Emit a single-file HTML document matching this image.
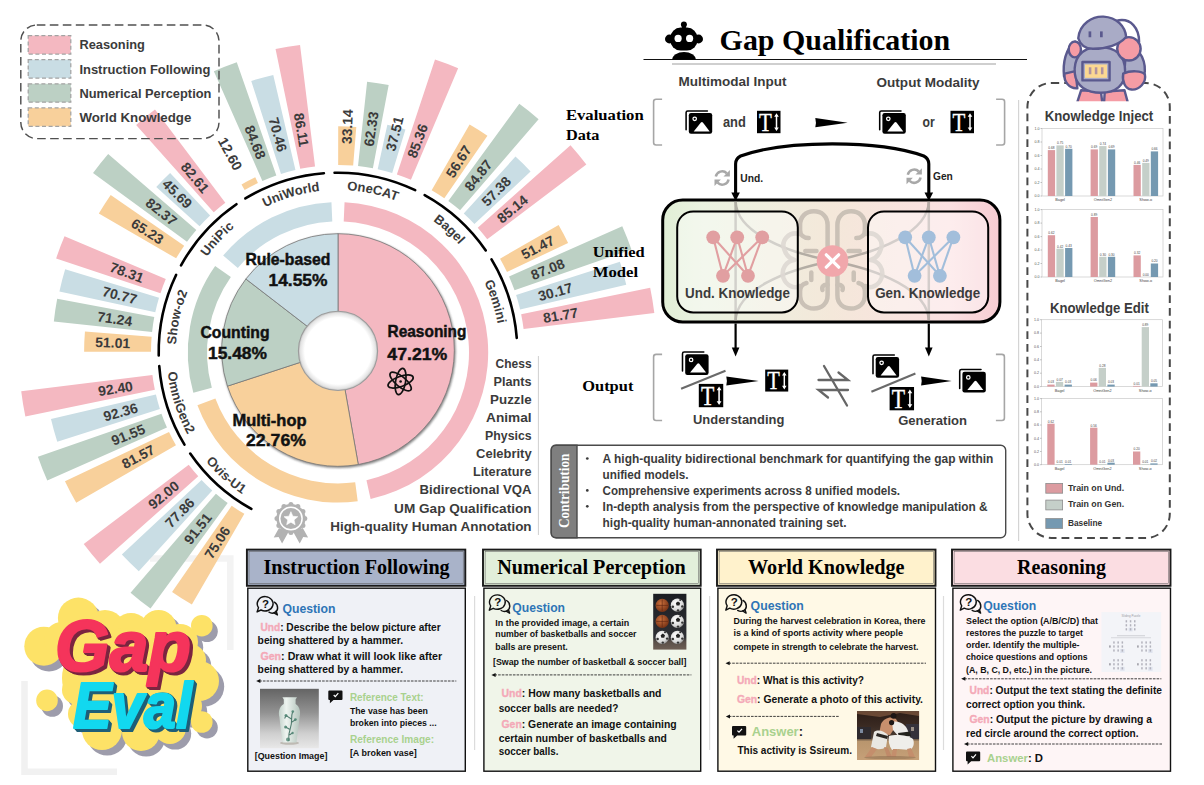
<!DOCTYPE html>
<html><head><meta charset="utf-8"><title>GapEval</title>
<style>html,body{margin:0;padding:0;background:#fff;}svg{display:block}text{white-space:pre}</style></head>
<body><svg width="1204" height="785" viewBox="0 0 1204 785">
<rect width="1204" height="785" fill="#fff"/>
<path d="M24.5,681 V771.8 H117" fill="none" stroke="#f1f1f1" stroke-width="6.5"/>
<path d="M150,558.4 H230.3 V650" fill="none" stroke="#f3f3f3" stroke-width="6.5"/>
<g id="bars">
<path d="M338.16,165.00 L338.20,126.31 A225.69,225.69 0 0 1 356.30,127.05 L353.16,165.62 A187.00,187.00 0 0 0 338.16,165.00 Z" fill="#f8d09b" />
<path d="M358.03,166.08 L367.11,81.81 A271.76,271.76 0 0 1 388.69,85.01 L372.88,168.28 A187.00,187.00 0 0 0 358.03,166.08 Z" fill="#bcd0c4" />
<path d="M377.68,169.26 L387.35,124.71 A232.59,232.59 0 0 1 405.42,129.40 L392.21,173.03 A187.00,187.00 0 0 0 377.68,169.26 Z" fill="#c9dde4" />
<path d="M396.87,174.51 L435.00,59.57 A308.10,308.10 0 0 1 458.14,68.29 L410.92,179.80 A187.00,187.00 0 0 0 396.87,174.51 Z" fill="#f4b8c1" />
<path d="M431.64,190.13 L469.61,124.50 A262.83,262.83 0 0 1 487.43,135.79 L444.32,198.17 A187.00,187.00 0 0 0 431.64,190.13 Z" fill="#f8d09b" />
<path d="M448.31,201.00 L519.29,103.84 A307.32,307.32 0 0 1 538.61,119.18 L460.07,210.34 A187.00,187.00 0 0 0 448.31,201.00 Z" fill="#bcd0c4" />
<path d="M463.73,213.58 L515.47,156.62 A263.95,263.95 0 0 1 530.57,171.48 L474.43,224.11 A187.00,187.00 0 0 0 463.73,213.58 Z" fill="#c9dde4" />
<path d="M477.73,227.72 L570.50,145.21 A311.16,311.16 0 0 1 586.34,164.52 L487.25,239.33 A187.00,187.00 0 0 0 477.73,227.72 Z" fill="#f4b8c1" />
<path d="M500.03,258.64 L558.62,224.88 A254.62,254.62 0 0 1 568.10,242.99 L506.99,271.94 A187.00,187.00 0 0 0 500.03,258.64 Z" fill="#f8d09b" />
<path d="M509.03,276.39 L622.27,226.33 A310.81,310.81 0 0 1 631.43,249.53 L514.54,290.35 A187.00,187.00 0 0 0 509.03,276.39 Z" fill="#bcd0c4" />
<path d="M516.10,294.99 L619.92,261.76 A296.01,296.01 0 0 1 626.25,284.66 L520.10,309.46 A187.00,187.00 0 0 0 516.10,294.99 Z" fill="#c9dde4" />
<path d="M521.15,314.24 L650.17,287.64 A318.73,318.73 0 0 1 654.32,312.88 L523.59,329.05 A187.00,187.00 0 0 0 521.15,314.24 Z" fill="#f4b8c1" />
<path d="M244.64,189.97 L241.50,184.53 A193.28,193.28 0 0 1 255.25,177.33 L257.94,183.01 A187.00,187.00 0 0 0 244.64,189.97 Z" fill="#f8d09b" />
<path d="M262.39,180.97 L213.86,71.19 A307.03,307.03 0 0 1 236.78,62.14 L276.35,175.46 A187.00,187.00 0 0 0 262.39,180.97 Z" fill="#bcd0c4" />
<path d="M280.99,173.90 L251.24,80.96 A284.59,284.59 0 0 1 273.26,74.88 L295.46,169.90 A187.00,187.00 0 0 0 280.99,173.90 Z" fill="#c9dde4" />
<path d="M300.24,168.85 L275.55,49.09 A309.28,309.28 0 0 1 300.04,45.06 L315.05,166.41 A187.00,187.00 0 0 0 300.24,168.85 Z" fill="#f4b8c1" />
<path d="M176.13,258.36 L98.81,213.62 A276.33,276.33 0 0 1 110.68,194.89 L184.17,245.68 A187.00,187.00 0 0 0 176.13,258.36 Z" fill="#f8d09b" />
<path d="M187.00,241.69 L93.03,173.04 A303.38,303.38 0 0 1 108.17,153.97 L196.34,229.93 A187.00,187.00 0 0 0 187.00,241.69 Z" fill="#bcd0c4" />
<path d="M199.58,226.27 L156.28,186.93 A245.50,245.50 0 0 1 170.10,172.89 L210.11,215.57 A187.00,187.00 0 0 0 199.58,226.27 Z" fill="#c9dde4" />
<path d="M213.72,212.27 L136.13,125.03 A303.76,303.76 0 0 1 154.98,109.57 L225.33,202.75 A187.00,187.00 0 0 0 213.72,212.27 Z" fill="#f4b8c1" />
<path d="M151.00,351.84 L84.11,351.78 A253.89,253.89 0 0 1 84.94,331.42 L151.62,336.84 A187.00,187.00 0 0 0 151.00,351.84 Z" fill="#f8d09b" />
<path d="M152.08,331.97 L53.83,321.38 A285.82,285.82 0 0 1 57.20,298.69 L154.28,317.12 A187.00,187.00 0 0 0 152.08,331.97 Z" fill="#bcd0c4" />
<path d="M155.26,312.32 L59.42,291.51 A285.08,285.08 0 0 1 65.16,269.37 L159.03,297.79 A187.00,187.00 0 0 0 155.26,312.32 Z" fill="#c9dde4" />
<path d="M160.51,293.13 L56.13,258.51 A296.97,296.97 0 0 1 64.53,236.20 L165.80,279.08 A187.00,187.00 0 0 0 160.51,293.13 Z" fill="#f4b8c1" />
<path d="M175.97,445.36 L76.23,502.83 A302.12,302.12 0 0 1 64.97,481.35 L169.01,432.06 A187.00,187.00 0 0 0 175.97,445.36 Z" fill="#f8d09b" />
<path d="M166.97,427.61 L47.28,480.53 A317.87,317.87 0 0 1 37.91,456.80 L161.46,413.65 A187.00,187.00 0 0 0 166.97,427.61 Z" fill="#bcd0c4" />
<path d="M159.90,409.01 L57.28,441.86 A294.75,294.75 0 0 1 50.98,419.06 L155.90,394.54 A187.00,187.00 0 0 0 159.90,409.01 Z" fill="#c9dde4" />
<path d="M154.85,389.76 L25.37,416.46 A319.21,319.21 0 0 1 21.21,391.18 L152.41,374.95 A187.00,187.00 0 0 0 154.85,389.76 Z" fill="#f4b8c1" />
<path d="M244.36,513.87 L191.86,604.62 A291.84,291.84 0 0 1 172.07,592.08 L231.68,505.83 A187.00,187.00 0 0 0 244.36,513.87 Z" fill="#f8d09b" />
<path d="M227.69,503.00 L150.53,608.62 A317.80,317.80 0 0 1 130.55,592.76 L215.93,493.66 A187.00,187.00 0 0 0 227.69,503.00 Z" fill="#bcd0c4" />
<path d="M212.27,490.42 L138.80,571.30 A296.26,296.26 0 0 1 121.86,554.62 L201.57,479.89 A187.00,187.00 0 0 0 212.27,490.42 Z" fill="#c9dde4" />
<path d="M198.27,476.28 L99.95,563.72 A318.58,318.58 0 0 1 83.74,543.95 L188.75,464.67 A187.00,187.00 0 0 0 198.27,476.28 Z" fill="#f4b8c1" />
</g>
<g id="barlabels">
<text transform="translate(346.53,144.17) rotate(-87.65)" x="0" y="4.9" text-anchor="start" font-family="Liberation Sans, sans-serif" font-size="14" font-weight="bold" fill="#3b3b3b">33.14</text>
<text transform="translate(368.56,146.26) rotate(-81.55)" x="0" y="4.9" text-anchor="start" font-family="Liberation Sans, sans-serif" font-size="14" font-weight="bold" fill="#3b3b3b">62.33</text>
<text transform="translate(390.25,150.67) rotate(-75.45)" x="0" y="4.9" text-anchor="start" font-family="Liberation Sans, sans-serif" font-size="14" font-weight="bold" fill="#3b3b3b">37.51</text>
<text transform="translate(411.35,157.36) rotate(-69.35)" x="0" y="4.9" text-anchor="start" font-family="Liberation Sans, sans-serif" font-size="14" font-weight="bold" fill="#3b3b3b">85.36</text>
<text transform="translate(449.30,176.28) rotate(-57.65)" x="0" y="4.9" text-anchor="start" font-family="Liberation Sans, sans-serif" font-size="14" font-weight="bold" fill="#3b3b3b">56.67</text>
<text transform="translate(467.34,189.10) rotate(-51.55)" x="0" y="4.9" text-anchor="start" font-family="Liberation Sans, sans-serif" font-size="14" font-weight="bold" fill="#3b3b3b">84.87</text>
<text transform="translate(483.92,203.77) rotate(-45.45)" x="0" y="4.9" text-anchor="start" font-family="Liberation Sans, sans-serif" font-size="14" font-weight="bold" fill="#3b3b3b">57.38</text>
<text transform="translate(498.84,220.12) rotate(-39.35)" x="0" y="4.9" text-anchor="start" font-family="Liberation Sans, sans-serif" font-size="14" font-weight="bold" fill="#3b3b3b">85.14</text>
<text transform="translate(522.25,255.47) rotate(-27.65)" x="0" y="4.9" text-anchor="start" font-family="Liberation Sans, sans-serif" font-size="14" font-weight="bold" fill="#3b3b3b">51.47</text>
<text transform="translate(531.46,275.60) rotate(-21.55)" x="0" y="4.9" text-anchor="start" font-family="Liberation Sans, sans-serif" font-size="14" font-weight="bold" fill="#3b3b3b">87.08</text>
<text transform="translate(538.48,296.59) rotate(-15.45)" x="0" y="4.9" text-anchor="start" font-family="Liberation Sans, sans-serif" font-size="14" font-weight="bold" fill="#3b3b3b">30.17</text>
<text transform="translate(543.24,318.21) rotate(-9.35)" x="0" y="4.9" text-anchor="start" font-family="Liberation Sans, sans-serif" font-size="14" font-weight="bold" fill="#3b3b3b">81.77</text>
<text transform="translate(238.59,169.29) rotate(61.45)" x="0" y="4.9" text-anchor="end" font-family="Liberation Sans, sans-serif" font-size="14" font-weight="bold" fill="#3b3b3b">12.60</text>
<text transform="translate(261.60,158.54) rotate(68.45)" x="0" y="4.9" text-anchor="end" font-family="Liberation Sans, sans-serif" font-size="14" font-weight="bold" fill="#3b3b3b">84.68</text>
<text transform="translate(282.59,151.52) rotate(74.55)" x="0" y="4.9" text-anchor="end" font-family="Liberation Sans, sans-serif" font-size="14" font-weight="bold" fill="#3b3b3b">70.46</text>
<text transform="translate(304.21,146.76) rotate(80.65)" x="0" y="4.9" text-anchor="end" font-family="Liberation Sans, sans-serif" font-size="14" font-weight="bold" fill="#3b3b3b">86.11</text>
<text transform="translate(162.28,240.70) rotate(32.35)" x="0" y="4.9" text-anchor="end" font-family="Liberation Sans, sans-serif" font-size="14" font-weight="bold" fill="#3b3b3b">65.23</text>
<text transform="translate(175.10,222.66) rotate(38.45)" x="0" y="4.9" text-anchor="end" font-family="Liberation Sans, sans-serif" font-size="14" font-weight="bold" fill="#3b3b3b">82.37</text>
<text transform="translate(189.77,206.08) rotate(44.55)" x="0" y="4.9" text-anchor="end" font-family="Liberation Sans, sans-serif" font-size="14" font-weight="bold" fill="#3b3b3b">45.69</text>
<text transform="translate(206.12,191.16) rotate(50.65)" x="0" y="4.9" text-anchor="end" font-family="Liberation Sans, sans-serif" font-size="14" font-weight="bold" fill="#3b3b3b">82.61</text>
<text transform="translate(130.17,343.47) rotate(2.35)" x="0" y="4.9" text-anchor="end" font-family="Liberation Sans, sans-serif" font-size="14" font-weight="bold" fill="#3b3b3b">51.01</text>
<text transform="translate(132.26,321.44) rotate(8.45)" x="0" y="4.9" text-anchor="end" font-family="Liberation Sans, sans-serif" font-size="14" font-weight="bold" fill="#3b3b3b">71.24</text>
<text transform="translate(136.67,299.75) rotate(14.55)" x="0" y="4.9" text-anchor="end" font-family="Liberation Sans, sans-serif" font-size="14" font-weight="bold" fill="#3b3b3b">70.77</text>
<text transform="translate(143.36,278.65) rotate(20.65)" x="0" y="4.9" text-anchor="end" font-family="Liberation Sans, sans-serif" font-size="14" font-weight="bold" fill="#3b3b3b">78.31</text>
<text transform="translate(153.75,448.53) rotate(-27.65)" x="0" y="4.9" text-anchor="end" font-family="Liberation Sans, sans-serif" font-size="14" font-weight="bold" fill="#3b3b3b">81.57</text>
<text transform="translate(144.54,428.40) rotate(-21.55)" x="0" y="4.9" text-anchor="end" font-family="Liberation Sans, sans-serif" font-size="14" font-weight="bold" fill="#3b3b3b">91.55</text>
<text transform="translate(137.52,407.41) rotate(-15.45)" x="0" y="4.9" text-anchor="end" font-family="Liberation Sans, sans-serif" font-size="14" font-weight="bold" fill="#3b3b3b">92.36</text>
<text transform="translate(132.76,385.79) rotate(-9.35)" x="0" y="4.9" text-anchor="end" font-family="Liberation Sans, sans-serif" font-size="14" font-weight="bold" fill="#3b3b3b">92.40</text>
<text transform="translate(226.70,527.72) rotate(-57.65)" x="0" y="4.9" text-anchor="end" font-family="Liberation Sans, sans-serif" font-size="14" font-weight="bold" fill="#3b3b3b">75.06</text>
<text transform="translate(208.66,514.90) rotate(-51.55)" x="0" y="4.9" text-anchor="end" font-family="Liberation Sans, sans-serif" font-size="14" font-weight="bold" fill="#3b3b3b">91.51</text>
<text transform="translate(192.08,500.23) rotate(-45.45)" x="0" y="4.9" text-anchor="end" font-family="Liberation Sans, sans-serif" font-size="14" font-weight="bold" fill="#3b3b3b">77.86</text>
<text transform="translate(177.16,483.88) rotate(-39.35)" x="0" y="4.9" text-anchor="end" font-family="Liberation Sans, sans-serif" font-size="14" font-weight="bold" fill="#3b3b3b">92.00</text>
</g>
<g id="arcs" fill="none" stroke="#000" stroke-width="2.6" stroke-linecap="round">
<path d="M334.56,172.73 A179.3,179.3 0 0 1 415.19,190.17"/>
<path d="M424.65,195.03 A179.3,179.3 0 0 1 485.77,250.44"/>
<path d="M491.53,259.39 A179.3,179.3 0 0 1 516.75,337.93"/>
<path d="M245.39,198.47 A179.3,179.3 0 0 1 323.93,173.25"/>
<path d="M181.03,265.35 A179.3,179.3 0 0 1 236.44,204.23"/>
<path d="M158.73,355.44 A179.3,179.3 0 0 1 176.17,274.81"/>
<path d="M184.47,444.61 A179.3,179.3 0 0 1 159.25,366.07"/>
<path d="M251.35,508.97 A179.3,179.3 0 0 1 190.23,453.56"/>
</g>
<defs>
<path id="lp5" d="M320.79,190.92 A162.0,162.0 0 0 1 420.22,212.42"/>
<path id="lp6" d="M403.63,203.89 A162.0,162.0 0 0 1 479.00,272.23"/>
<path id="lp7" d="M468.89,256.55 A162.0,162.0 0 0 1 499.99,353.41"/>
<path id="lp4" d="M245.31,219.14 A162.0,162.0 0 0 1 342.81,190.07"/>
<path id="lp3" d="M190.94,284.05 A162.0,162.0 0 0 1 260.45,209.77"/>
<path id="lp2" d="M176.92,369.21 A162.0,162.0 0 0 1 198.42,269.78"/>
<path id="lp1" d="M166.51,350.50 A171.5,171.5 0 0 0 199.43,453.05"/>
<path id="lp0" d="M188.73,436.45 A171.5,171.5 0 0 0 268.52,508.79"/>
</defs>
<text font-family="Liberation Sans, sans-serif" font-size="13" font-weight="bold" fill="#3b3b3b" text-anchor="middle"><textPath href="#lp5" startOffset="50%">OneCAT</textPath></text>
<text font-family="Liberation Sans, sans-serif" font-size="13" font-weight="bold" fill="#3b3b3b" text-anchor="middle"><textPath href="#lp6" startOffset="50%">Bagel</textPath></text>
<text font-family="Liberation Sans, sans-serif" font-size="13" font-weight="bold" fill="#3b3b3b" text-anchor="middle"><textPath href="#lp7" startOffset="50%">Gemini</textPath></text>
<text font-family="Liberation Sans, sans-serif" font-size="13" font-weight="bold" fill="#3b3b3b" text-anchor="middle"><textPath href="#lp4" startOffset="50%">UniWorld</textPath></text>
<text font-family="Liberation Sans, sans-serif" font-size="13" font-weight="bold" fill="#3b3b3b" text-anchor="middle"><textPath href="#lp3" startOffset="50%">UniPic</textPath></text>
<text font-family="Liberation Sans, sans-serif" font-size="13" font-weight="bold" fill="#3b3b3b" text-anchor="middle"><textPath href="#lp2" startOffset="50%">Show-o2</textPath></text>
<text font-family="Liberation Sans, sans-serif" font-size="13" font-weight="bold" fill="#3b3b3b" text-anchor="middle"><textPath href="#lp1" startOffset="50%">OmniGen2</textPath></text>
<text font-family="Liberation Sans, sans-serif" font-size="13" font-weight="bold" fill="#3b3b3b" text-anchor="middle"><textPath href="#lp0" startOffset="50%">Ovis-U1</textPath></text>
<path d="M343.71,221.52 L344.55,202.34 A150.20,150.20 0 0 1 370.62,499.01 L366.45,480.27 A131.00,131.00 0 0 0 343.71,221.52 Z" fill="#f4b8c1" />
<path d="M355.20,482.27 L357.72,501.30 A150.20,150.20 0 0 1 197.41,405.27 L215.38,398.51 A131.00,131.00 0 0 0 355.20,482.27 Z" fill="#f8d09b" />
<path d="M211.83,387.65 L193.34,392.81 A150.20,150.20 0 0 1 215.14,265.99 L230.85,277.04 A131.00,131.00 0 0 0 211.83,387.65 Z" fill="#bcd0c4" />
<path d="M237.82,267.98 L223.14,255.61 A150.20,150.20 0 0 1 331.45,202.34 L332.29,221.52 A131.00,131.00 0 0 0 237.82,267.98 Z" fill="#c9dde4" />
<defs><filter id="psh" x="-20%" y="-20%" width="140%" height="140%"><feGaussianBlur stdDeviation="1.2"/></filter><radialGradient id="hole" cx="50%" cy="50%" r="50%"><stop offset="0.84" stop-color="#fff"/><stop offset="0.95" stop-color="#e4e4e4"/><stop offset="1" stop-color="#bdbdbd"/></radialGradient></defs>
<circle cx="338.8" cy="351.2" r="116.89999999999999" fill="#555" opacity="0.7" filter="url(#psh)"/>
<path d="M338.00,350.00 L338.00,233.70 A116.30,116.30 0 0 1 358.28,464.52 L338.00,350.00 Z" fill="#f4b8c1" stroke="#777" stroke-width="0.8" stroke-linejoin="round"/>
<path d="M338.00,350.00 L358.28,464.52 A116.30,116.30 0 0 1 227.46,386.15 L338.00,350.00 Z" fill="#f8d09b" stroke="#777" stroke-width="0.8" stroke-linejoin="round"/>
<path d="M338.00,350.00 L227.46,386.15 A116.30,116.30 0 0 1 245.88,279.01 L338.00,350.00 Z" fill="#bcd0c4" stroke="#777" stroke-width="0.8" stroke-linejoin="round"/>
<path d="M338.00,350.00 L245.88,279.01 A116.30,116.30 0 0 1 338.00,233.70 L338.00,350.00 Z" fill="#c9dde4" stroke="#777" stroke-width="0.8" stroke-linejoin="round"/>
<circle cx="338.0" cy="350.9" r="39.6" fill="url(#hole)" stroke="#9c9c9c" stroke-width="1.1"/>
<text x="245.4" y="264.5" font-family="Liberation Sans, sans-serif" font-size="16.2" font-weight="bold" fill="#111" textLength="85.0" lengthAdjust="spacingAndGlyphs" stroke="#111" stroke-width="0.45">Rule-based</text>
<text x="268.5" y="285.5" font-family="Liberation Sans, sans-serif" font-size="17.4" font-weight="bold" fill="#111" textLength="59.0" lengthAdjust="spacingAndGlyphs" stroke="#111" stroke-width="0.45">14.55%</text>
<text x="200.5" y="337.5" font-family="Liberation Sans, sans-serif" font-size="16.2" font-weight="bold" fill="#111" textLength="69.0" lengthAdjust="spacingAndGlyphs" stroke="#111" stroke-width="0.45">Counting</text>
<text x="208.0" y="358.5" font-family="Liberation Sans, sans-serif" font-size="17.4" font-weight="bold" fill="#111" textLength="59.0" lengthAdjust="spacingAndGlyphs" stroke="#111" stroke-width="0.45">15.48%</text>
<text x="387.5" y="336.5" font-family="Liberation Sans, sans-serif" font-size="16.2" font-weight="bold" fill="#111" textLength="79.0" lengthAdjust="spacingAndGlyphs" stroke="#111" stroke-width="0.45">Reasoning</text>
<text x="387.3" y="360.0" font-family="Liberation Sans, sans-serif" font-size="17.4" font-weight="bold" fill="#111" textLength="60.0" lengthAdjust="spacingAndGlyphs" stroke="#111" stroke-width="0.45">47.21%</text>
<text x="232.5" y="425.5" font-family="Liberation Sans, sans-serif" font-size="16.2" font-weight="bold" fill="#111" textLength="74.0" lengthAdjust="spacingAndGlyphs" stroke="#111" stroke-width="0.45">Multi-hop</text>
<text x="246.0" y="446.0" font-family="Liberation Sans, sans-serif" font-size="17.4" font-weight="bold" fill="#111" textLength="60.0" lengthAdjust="spacingAndGlyphs" stroke="#111" stroke-width="0.45">22.76%</text>
<g transform="translate(400.6,381.5)" fill="none" stroke="#111" stroke-width="1.7"><ellipse rx="13.3" ry="5" transform="rotate(-20)"/><ellipse rx="13.3" ry="5" transform="rotate(40)"/><ellipse rx="13.3" ry="5" transform="rotate(100)"/><circle r="1.3" fill="#111" stroke="none"/></g>
<rect x="20.8" y="25" width="198.2" height="113.6" rx="16" fill="none" stroke="#505050" stroke-width="1.45" stroke-dasharray="8.6,4.4"/>
<rect x="28.2" y="35.6" width="42.6" height="18.4" fill="#f4b8c1" stroke="#a3a3a3" stroke-width="1.25" stroke-dasharray="4,2.6"/>
<text x="79.4" y="49.4" font-family="Liberation Sans, sans-serif" font-size="13.2" font-weight="bold" fill="#3b3b3b" textLength="65.5" lengthAdjust="spacingAndGlyphs" >Reasoning</text>
<rect x="28.2" y="59.7" width="42.6" height="18.4" fill="#c9dde4" stroke="#a3a3a3" stroke-width="1.25" stroke-dasharray="4,2.6"/>
<text x="79.4" y="73.5" font-family="Liberation Sans, sans-serif" font-size="13.2" font-weight="bold" fill="#3b3b3b" textLength="131.0" lengthAdjust="spacingAndGlyphs" >Instruction Following</text>
<rect x="28.2" y="83.8" width="42.6" height="18.4" fill="#bcd0c4" stroke="#a3a3a3" stroke-width="1.25" stroke-dasharray="4,2.6"/>
<text x="79.4" y="97.6" font-family="Liberation Sans, sans-serif" font-size="13.2" font-weight="bold" fill="#3b3b3b" textLength="132.0" lengthAdjust="spacingAndGlyphs" >Numerical Perception</text>
<rect x="28.2" y="107.9" width="42.6" height="18.4" fill="#f8d09b" stroke="#a3a3a3" stroke-width="1.25" stroke-dasharray="4,2.6"/>
<text x="79.4" y="121.7" font-family="Liberation Sans, sans-serif" font-size="13.2" font-weight="bold" fill="#3b3b3b" textLength="112.0" lengthAdjust="spacingAndGlyphs" >World Knowledge</text>
<text x="531.6" y="367.5" font-family="Liberation Sans, sans-serif" font-size="13.3" font-weight="bold" fill="#3b3b3b" text-anchor="end" textLength="36.0" lengthAdjust="spacingAndGlyphs" >Chess</text>
<text x="531.6" y="385.6" font-family="Liberation Sans, sans-serif" font-size="13.3" font-weight="bold" fill="#3b3b3b" text-anchor="end" textLength="38.0" lengthAdjust="spacingAndGlyphs" >Plants</text>
<text x="531.6" y="403.8" font-family="Liberation Sans, sans-serif" font-size="13.3" font-weight="bold" fill="#3b3b3b" text-anchor="end" textLength="41.5" lengthAdjust="spacingAndGlyphs" >Puzzle</text>
<text x="531.6" y="421.9" font-family="Liberation Sans, sans-serif" font-size="13.3" font-weight="bold" fill="#3b3b3b" text-anchor="end" textLength="45.5" lengthAdjust="spacingAndGlyphs" >Animal</text>
<text x="531.6" y="440.0" font-family="Liberation Sans, sans-serif" font-size="13.3" font-weight="bold" fill="#3b3b3b" text-anchor="end" textLength="46.5" lengthAdjust="spacingAndGlyphs" >Physics</text>
<text x="531.6" y="458.1" font-family="Liberation Sans, sans-serif" font-size="13.3" font-weight="bold" fill="#3b3b3b" text-anchor="end" textLength="55.5" lengthAdjust="spacingAndGlyphs" >Celebrity</text>
<text x="531.6" y="476.3" font-family="Liberation Sans, sans-serif" font-size="13.3" font-weight="bold" fill="#3b3b3b" text-anchor="end" textLength="58.5" lengthAdjust="spacingAndGlyphs" >Literature</text>
<text x="531.6" y="494.4" font-family="Liberation Sans, sans-serif" font-size="13.3" font-weight="bold" fill="#3b3b3b" text-anchor="end" textLength="112.0" lengthAdjust="spacingAndGlyphs" >Bidirectional VQA</text>
<text x="531.6" y="512.5" font-family="Liberation Sans, sans-serif" font-size="13.3" font-weight="bold" fill="#3b3b3b" text-anchor="end" textLength="137.5" lengthAdjust="spacingAndGlyphs" >UM Gap Qualification</text>
<text x="531.6" y="530.7" font-family="Liberation Sans, sans-serif" font-size="13.3" font-weight="bold" fill="#3b3b3b" text-anchor="end" textLength="201.4" lengthAdjust="spacingAndGlyphs" >High-quality Human Annotation</text>
<line x1="538.4" y1="356" x2="538.4" y2="535" stroke="#cfcfcf" stroke-width="1"/>
<g transform="translate(290.9,518.5)" fill="#b2b2b2"><path d="M-11.9,9.5 L-17.2,18.9 L-12.3,18.5 L-8.8,24.9 L-2.4,13.5 Z"/><path d="M11.9,9.5 L17.2,18.9 L12.3,18.5 L8.8,24.9 L2.4,13.5 Z"/><circle r="14.6"/><circle cx="0.00" cy="-13.90" r="2.5"/><circle cx="6.95" cy="-12.04" r="2.5"/><circle cx="12.04" cy="-6.95" r="2.5"/><circle cx="13.90" cy="-0.00" r="2.5"/><circle cx="12.04" cy="6.95" r="2.5"/><circle cx="6.95" cy="12.04" r="2.5"/><circle cx="0.00" cy="13.90" r="2.5"/><circle cx="-6.95" cy="12.04" r="2.5"/><circle cx="-12.04" cy="6.95" r="2.5"/><circle cx="-13.90" cy="0.00" r="2.5"/><circle cx="-12.04" cy="-6.95" r="2.5"/><circle cx="-6.95" cy="-12.04" r="2.5"/><circle r="11.2" fill="none" stroke="#fff" stroke-width="1.5"/><path d="M0.00,-6.80 L1.94,-2.27 L6.85,-1.82 L3.14,1.42 L4.23,6.22 L0.00,3.70 L-4.23,6.22 L-3.14,1.42 L-6.85,-1.82 L-1.94,-2.27 Z" fill="#fff" stroke="#fff" stroke-width="0.6" stroke-linejoin="round"/></g>
<line x1="643.5" y1="59.5" x2="1027" y2="59.5" stroke="#111" stroke-width="1.1"/>
<line x1="672" y1="64" x2="996" y2="64" stroke="#cfcfcf" stroke-width="1.8"/>
<text x="719.6" y="50.0" font-family="Liberation Serif, serif" font-size="30" font-weight="bold" fill="#000" textLength="230.5" lengthAdjust="spacingAndGlyphs" >Gap Qualification</text>
<g fill="#000"><circle cx="683.9" cy="24.4" r="3"/><rect x="681.9" y="25" width="4" height="5"/><rect x="670.2" y="27.6" width="27.3" height="23" rx="10.5"/><circle cx="669.4" cy="39" r="4.4"/><circle cx="698.6" cy="39" r="4.4"/><path d="M672.2,59.7 A11.8,7.6 0 0 1 695.8,59.7 Z"/></g><circle cx="678.1" cy="38.4" r="3.6" fill="#fff"/><circle cx="689.6" cy="38.4" r="3.6" fill="#fff"/>
<text x="565.9" y="119.5" font-family="Liberation Serif, serif" font-size="15.6" font-weight="bold" fill="#000" textLength="77.8" lengthAdjust="spacingAndGlyphs" >Evaluation</text>
<text x="565.9" y="139.8" font-family="Liberation Serif, serif" font-size="15.6" font-weight="bold" fill="#000" textLength="33.5" lengthAdjust="spacingAndGlyphs" >Data</text>
<text x="678.5" y="86.2" font-family="Liberation Sans, sans-serif" font-size="13.6" font-weight="bold" fill="#3b3b3b" textLength="108.1" lengthAdjust="spacingAndGlyphs" >Multimodal Input</text>
<text x="876.6" y="87.2" font-family="Liberation Sans, sans-serif" font-size="13.6" font-weight="bold" fill="#3b3b3b" textLength="102.9" lengthAdjust="spacingAndGlyphs" >Output Modality</text>
<path d="M662.1,99.2 H656.1 Q653.6,99.2 653.6,101.7 V142.5 Q653.6,145 656.1,145 H662.1" fill="none" stroke="#a6a6a6" stroke-width="1.6"/>
<path d="M996.1,99.2 H1002.1 Q1004.6,99.2 1004.6,101.7 V142.5 Q1004.6,145 1002.1,145 H996.1" fill="none" stroke="#a6a6a6" stroke-width="1.6"/>
<g transform="translate(685.4,110.2) scale(1.0)"><path d="M0.7,19.6 V2.4 Q0.7,0.7 2.4,0.7 H22" fill="none" stroke="#000" stroke-width="1.55" stroke-linecap="round"/><rect x="3.4" y="2.9" width="23.4" height="20.6" rx="2.2" fill="#000"/><path d="M8.3,21.2 L15.5,12.4 Q16.5,11.3 17.5,12.4 L24.3,21.2 Z" fill="#fff"/><circle cx="9.3" cy="8.6" r="1.75" fill="#000" stroke="#fff" stroke-width="1.25"/></g>
<text x="722.9" y="126.6" font-family="Liberation Sans, sans-serif" font-size="15.4" font-weight="bold" fill="#3b3b3b" textLength="22.9" lengthAdjust="spacingAndGlyphs" >and</text>
<g transform="translate(757.0,110.8) scale(1.0)"><rect width="23.5" height="22.4" fill="#000"/><text x="8.5" y="19.9" font-family="Liberation Serif, serif" font-size="25.5" fill="#fff" stroke="#fff" stroke-width="0.35" text-anchor="middle" textLength="12.8" lengthAdjust="spacingAndGlyphs">T</text><path d="M19.5,4.2 V18.4" stroke="#fff" stroke-width="1.5" fill="none"/><path d="M19.5,2.4 L21.8,6 H17.2 Z M19.5,20.2 L21.8,16.6 H17.2 Z" fill="#fff"/></g>
<path d="M815.3,118.10000000000001 L847.7,122.7 L815.3,127.3 Q816.5,122.7 815.3,118.10000000000001 Z" fill="#000"/>
<g transform="translate(879.0,110.2) scale(1.0)"><path d="M0.7,19.6 V2.4 Q0.7,0.7 2.4,0.7 H22" fill="none" stroke="#000" stroke-width="1.55" stroke-linecap="round"/><rect x="3.4" y="2.9" width="23.4" height="20.6" rx="2.2" fill="#000"/><path d="M8.3,21.2 L15.5,12.4 Q16.5,11.3 17.5,12.4 L24.3,21.2 Z" fill="#fff"/><circle cx="9.3" cy="8.6" r="1.75" fill="#000" stroke="#fff" stroke-width="1.25"/></g>
<text x="922.6" y="126.6" font-family="Liberation Sans, sans-serif" font-size="15.4" font-weight="bold" fill="#3b3b3b" textLength="12.2" lengthAdjust="spacingAndGlyphs" >or</text>
<g transform="translate(950.5,110.8) scale(1.0)"><rect width="23.5" height="22.4" fill="#000"/><text x="8.5" y="19.9" font-family="Liberation Serif, serif" font-size="25.5" fill="#fff" stroke="#fff" stroke-width="0.35" text-anchor="middle" textLength="12.8" lengthAdjust="spacingAndGlyphs">T</text><path d="M19.5,4.2 V18.4" stroke="#fff" stroke-width="1.5" fill="none"/><path d="M19.5,2.4 L21.8,6 H17.2 Z M19.5,20.2 L21.8,16.6 H17.2 Z" fill="#fff"/></g>
<path d="M735.6,196 V164 Q735.6,158.5 740.6,156 C765.6,147 800.6,143.9 832.2,143.9 C863.8,143.9 898.8,147 923.8,156 Q928.8,158.5 928.8,164 V196" fill="none" stroke="#000" stroke-width="3.1"/>
<path d="M731.3000000000001,192.6 L735.6,201 L739.9,192.6 Z" fill="#000"/>
<path d="M924.5,192.6 L928.8,201 L933.0999999999999,192.6 Z" fill="#000"/>
<text x="740.3" y="181.8" font-family="Liberation Sans, sans-serif" font-size="10.5" font-weight="bold" fill="#222" textLength="22.8" lengthAdjust="spacingAndGlyphs" >Und.</text>
<text x="933.0" y="180.2" font-family="Liberation Sans, sans-serif" font-size="10.5" font-weight="bold" fill="#222" textLength="19.8" lengthAdjust="spacingAndGlyphs" >Gen</text>
<g transform="translate(722.2,178)" fill="none" stroke="#a8a8a8" stroke-width="2.5"><path d="M-6.4,-1.4 A6.5,6.5 0 0 1 4.6,-4.7"/><path d="M6.4,1.4 A6.5,6.5 0 0 1 -4.6,4.7"/><path d="M7.7,-8 V-1.6 H1.3 Z" fill="#a8a8a8" stroke="none"/><path d="M-7.7,8 V1.6 H-1.3 Z" fill="#a8a8a8" stroke="none"/></g>
<g transform="translate(914.2,176.2)" fill="none" stroke="#a8a8a8" stroke-width="2.5"><path d="M-6.4,-1.4 A6.5,6.5 0 0 1 4.6,-4.7"/><path d="M6.4,1.4 A6.5,6.5 0 0 1 -4.6,4.7"/><path d="M7.7,-8 V-1.6 H1.3 Z" fill="#a8a8a8" stroke="none"/><path d="M-7.7,8 V1.6 H-1.3 Z" fill="#a8a8a8" stroke="none"/></g>
<defs><linearGradient id="ug" x1="0" x2="1" y1="0" y2="0"><stop offset="0" stop-color="#e1efd6"/><stop offset="0.12" stop-color="#eaf2e0"/><stop offset="0.5" stop-color="#f4e8da"/><stop offset="0.85" stop-color="#fbe0e1"/><stop offset="1" stop-color="#f7ccd2"/></linearGradient></defs>
<rect x="662.7" y="200" width="337.2" height="122" rx="20" fill="url(#ug)" stroke="#000" stroke-width="3"/>
<g fill="none" stroke="#8e8983" stroke-width="2.5" opacity="0.62"><path d="M735.6,201.5 V320.5"/><path d="M928.8,201.5 V320.5"/><path d="M735.6,201.5 C736.5,232 785,252 832.3,261 C880,270 928,290 928.8,320.5"/><path d="M928.8,201.5 C928,232 880,252 832.3,261 C785,270 736.5,290 735.6,320.5"/></g>
<g fill="none" stroke="#c6bdb3" stroke-width="4.5" stroke-linecap="round" stroke-linejoin="round" opacity="0.9"><g transform="translate(832.5,261) scale(-1,1)"><path d="M-4.9,-9.3 V-36 C-4.9,-45 -11,-49.7 -18.6,-49.7 C-27,-49.7 -32.4,-44 -32.4,-36 V-31 C-32.4,-26 -29,-23 -23.8,-23"/><path d="M-4.9,9.7 V34 C-4.9,43 -11,47.5 -18.6,47.5 C-27,47.5 -32.4,42 -32.4,34 V30 C-32.4,26 -30,23 -26,22"/><path d="M-33,-27 C-44,-30 -52,-20 -48,-11 C-46,-5 -42,-2 -38,-1 C-46,0 -52,8 -49,17 C-46,25 -38,28 -33,25"/><path d="M-27.2,-10.1 H-16"/><path d="M-21.2,11.4 V19"/><path d="M-4.9,24 C-9,23 -11,26 -10,29"/></g><g transform="translate(832.5,261) scale(1,1)"><path d="M-4.9,-9.3 V-36 C-4.9,-45 -11,-49.7 -18.6,-49.7 C-27,-49.7 -32.4,-44 -32.4,-36 V-31 C-32.4,-26 -29,-23 -23.8,-23"/><path d="M-4.9,9.7 V34 C-4.9,43 -11,47.5 -18.6,47.5 C-27,47.5 -32.4,42 -32.4,34 V30 C-32.4,26 -30,23 -26,22"/><path d="M-33,-27 C-44,-30 -52,-20 -48,-11 C-46,-5 -42,-2 -38,-1 C-46,0 -52,8 -49,17 C-46,25 -38,28 -33,25"/><path d="M-27.2,-10.1 H-16"/><path d="M-21.2,11.4 V19"/><path d="M-4.9,24 C-9,23 -11,26 -10,29"/></g></g>
<rect x="677.2" y="211.4" width="120.6" height="101" rx="16" fill="#ffffff" fill-opacity="0.42" stroke="#000" stroke-width="2"/>
<rect x="868" y="211.4" width="120.2" height="101" rx="16" fill="#ffffff" fill-opacity="0.42" stroke="#000" stroke-width="2"/>
<circle cx="832.5" cy="261" r="15.8" fill="#f1a7ab"/>
<path d="M826.3,254.8 L838.7,267.2 M838.7,254.8 L826.3,267.2" stroke="#fff" stroke-width="3.2" stroke-linecap="round"/>
<g stroke="#e19fa1" stroke-width="2.1" fill="#e19fa1"><line x1="713.2" y1="237.3" x2="723" y2="275.8"/><line x1="713.2" y1="237.3" x2="748" y2="275.8"/><line x1="737.2" y1="237.3" x2="723" y2="275.8"/><line x1="737.2" y1="237.3" x2="748" y2="275.8"/><line x1="762.2" y1="237.3" x2="723" y2="275.8"/><line x1="762.2" y1="237.3" x2="748" y2="275.8"/><circle cx="713.2" cy="237.3" r="6.9" stroke="none"/><circle cx="737.2" cy="237.3" r="6.9" stroke="none"/><circle cx="762.2" cy="237.3" r="6.9" stroke="none"/><circle cx="723" cy="275.8" r="6.9" stroke="none"/><circle cx="748" cy="275.8" r="6.9" stroke="none"/></g>
<g stroke="#a2bedb" stroke-width="2.1" fill="#a2bedb"><line x1="905.2" y1="237.3" x2="914.6" y2="275.8"/><line x1="905.2" y1="237.3" x2="939.9" y2="275.8"/><line x1="928.8" y1="237.3" x2="914.6" y2="275.8"/><line x1="928.8" y1="237.3" x2="939.9" y2="275.8"/><line x1="953.4" y1="237.3" x2="914.6" y2="275.8"/><line x1="953.4" y1="237.3" x2="939.9" y2="275.8"/><circle cx="905.2" cy="237.3" r="6.9" stroke="none"/><circle cx="928.8" cy="237.3" r="6.9" stroke="none"/><circle cx="953.4" cy="237.3" r="6.9" stroke="none"/><circle cx="914.6" cy="275.8" r="6.9" stroke="none"/><circle cx="939.9" cy="275.8" r="6.9" stroke="none"/></g>
<text x="685.1" y="298.2" font-family="Liberation Sans, sans-serif" font-size="14.2" font-weight="bold" fill="#3b3b3b" textLength="104.9" lengthAdjust="spacingAndGlyphs" >Und. Knowledge</text>
<text x="875.2" y="298.2" font-family="Liberation Sans, sans-serif" font-size="14.2" font-weight="bold" fill="#3b3b3b" textLength="105.1" lengthAdjust="spacingAndGlyphs" >Gen. Knowledge</text>
<text x="592.7" y="256.9" font-family="Liberation Serif, serif" font-size="15.6" font-weight="bold" fill="#000" textLength="52.0" lengthAdjust="spacingAndGlyphs" >Unified</text>
<text x="592.7" y="277.4" font-family="Liberation Serif, serif" font-size="15.6" font-weight="bold" fill="#000" textLength="45.5" lengthAdjust="spacingAndGlyphs" >Model</text>
<path d="M735.6,323.5 V350" stroke="#000" stroke-width="2.2" fill="none"/>
<path d="M731.8000000000001,347.6 L735.6,356.6 L739.4,347.6 Z" fill="#000"/>
<path d="M928.8,323.5 V350" stroke="#000" stroke-width="2.2" fill="none"/>
<path d="M925.0,347.6 L928.8,356.6 L932.5999999999999,347.6 Z" fill="#000"/>
<text x="582.2" y="390.8" font-family="Liberation Serif, serif" font-size="15.6" font-weight="bold" fill="#000" textLength="51.2" lengthAdjust="spacingAndGlyphs" >Output</text>
<path d="M662.1,354.4 H656.1 Q653.6,354.4 653.6,356.9 V418.0 Q653.6,420.5 656.1,420.5 H662.1" fill="none" stroke="#a6a6a6" stroke-width="1.6"/>
<path d="M995.9,354.4 H1001.9 Q1004.4,354.4 1004.4,356.9 V418.0 Q1004.4,420.5 1001.9,420.5 H995.9" fill="none" stroke="#a6a6a6" stroke-width="1.6"/>
<g transform="translate(681.8,351.4) scale(1.0)"><path d="M0.7,19.6 V2.4 Q0.7,0.7 2.4,0.7 H22" fill="none" stroke="#000" stroke-width="1.55" stroke-linecap="round"/><rect x="3.4" y="2.9" width="23.4" height="20.6" rx="2.2" fill="#000"/><path d="M8.3,21.2 L15.5,12.4 Q16.5,11.3 17.5,12.4 L24.3,21.2 Z" fill="#fff"/><circle cx="9.3" cy="8.6" r="1.75" fill="#000" stroke="#fff" stroke-width="1.25"/></g>
<line x1="681.1" y1="388.8" x2="725.5" y2="370.8" stroke="#6a6a6a" stroke-width="2.1"/>
<g transform="translate(698.8,383.9) scale(1.04)"><rect width="23.5" height="22.4" fill="#000"/><text x="8.5" y="19.9" font-family="Liberation Serif, serif" font-size="25.5" fill="#fff" stroke="#fff" stroke-width="0.35" text-anchor="middle" textLength="12.8" lengthAdjust="spacingAndGlyphs">T</text><path d="M19.5,4.2 V18.4" stroke="#fff" stroke-width="1.5" fill="none"/><path d="M19.5,2.4 L21.8,6 H17.2 Z M19.5,20.2 L21.8,16.6 H17.2 Z" fill="#fff"/></g>
<path d="M726.3,376.6 L758.7,381.1 L726.3,385.6 Q727.5,381.1 726.3,376.6 Z" fill="#000"/>
<g transform="translate(765.2,369.6) scale(0.98)"><rect width="23.5" height="22.4" fill="#000"/><text x="8.5" y="19.9" font-family="Liberation Serif, serif" font-size="25.5" fill="#fff" stroke="#fff" stroke-width="0.35" text-anchor="middle" textLength="12.8" lengthAdjust="spacingAndGlyphs">T</text><path d="M19.5,4.2 V18.4" stroke="#fff" stroke-width="1.5" fill="none"/><path d="M19.5,2.4 L21.8,6 H17.2 Z M19.5,20.2 L21.8,16.6 H17.2 Z" fill="#fff"/></g>
<text x="693.0" y="424.0" font-family="Liberation Sans, sans-serif" font-size="13.6" font-weight="bold" fill="#3b3b3b" textLength="91.3" lengthAdjust="spacingAndGlyphs" >Understanding</text>
<g transform="translate(872.3,354.2) scale(1.0)"><path d="M0.7,19.6 V2.4 Q0.7,0.7 2.4,0.7 H22" fill="none" stroke="#000" stroke-width="1.55" stroke-linecap="round"/><rect x="3.4" y="2.9" width="23.4" height="20.6" rx="2.2" fill="#000"/><path d="M8.3,21.2 L15.5,12.4 Q16.5,11.3 17.5,12.4 L24.3,21.2 Z" fill="#fff"/><circle cx="9.3" cy="8.6" r="1.75" fill="#000" stroke="#fff" stroke-width="1.25"/></g>
<line x1="871.4" y1="391.8" x2="915.4" y2="373.5" stroke="#6a6a6a" stroke-width="2.1"/>
<g transform="translate(889.6,387.0) scale(1.04)"><rect width="23.5" height="22.4" fill="#000"/><text x="8.5" y="19.9" font-family="Liberation Serif, serif" font-size="25.5" fill="#fff" stroke="#fff" stroke-width="0.35" text-anchor="middle" textLength="12.8" lengthAdjust="spacingAndGlyphs">T</text><path d="M19.5,4.2 V18.4" stroke="#fff" stroke-width="1.5" fill="none"/><path d="M19.5,2.4 L21.8,6 H17.2 Z M19.5,20.2 L21.8,16.6 H17.2 Z" fill="#fff"/></g>
<path d="M921.1,376.6 L951.7,381.1 L921.1,385.6 Q922.3000000000001,381.1 921.1,376.6 Z" fill="#000"/>
<g transform="translate(959.0,368.9) scale(1.0)"><path d="M0.7,19.6 V2.4 Q0.7,0.7 2.4,0.7 H22" fill="none" stroke="#000" stroke-width="1.55" stroke-linecap="round"/><rect x="3.4" y="2.9" width="23.4" height="20.6" rx="2.2" fill="#000"/><path d="M8.3,21.2 L15.5,12.4 Q16.5,11.3 17.5,12.4 L24.3,21.2 Z" fill="#fff"/><circle cx="9.3" cy="8.6" r="1.75" fill="#000" stroke="#fff" stroke-width="1.25"/></g>
<text x="898.2" y="424.7" font-family="Liberation Sans, sans-serif" font-size="13.6" font-weight="bold" fill="#3b3b3b" textLength="68.8" lengthAdjust="spacingAndGlyphs" >Generation</text>
<g transform="translate(0,0.5)" stroke="#666" stroke-width="2.3" fill="none" stroke-linecap="round"><path d="M818.5,379.5 H848 L838.5,372"/><path d="M848,389.5 H818.5 L828,397"/><path d="M824,365.5 L847,405"/></g>
<rect x="551.2" y="445.2" width="454.5" height="92.5" rx="5" fill="#fff" stroke="#4a4a4a" stroke-width="1.4"/>
<path d="M556.2,445.2 H577 V537.7 H556.2 Q551.2,537.7 551.2,532.7 V450.2 Q551.2,445.2 556.2,445.2 Z" fill="#7f7f7f" stroke="#4a4a4a" stroke-width="1.4"/>
<text transform="translate(569.3,490.8) rotate(-90)" text-anchor="middle" font-family="Liberation Serif, serif" font-size="15" font-weight="bold" fill="#fff" textLength="74.5" lengthAdjust="spacingAndGlyphs">Contribution</text>
<text x="602.6" y="462.7" font-family="Liberation Sans, sans-serif" font-size="12.4" font-weight="bold" fill="#3b3b3b" textLength="390.7" lengthAdjust="spacingAndGlyphs" >A high-quality bidirectional benchmark for quantifying the gap within</text>
<circle cx="587.3" cy="458.5" r="1.35" fill="#3b3b3b"/>
<text x="602.6" y="478.6" font-family="Liberation Sans, sans-serif" font-size="12.4" font-weight="bold" fill="#3b3b3b" textLength="86.0" lengthAdjust="spacingAndGlyphs" >unified models.</text>
<text x="602.6" y="494.6" font-family="Liberation Sans, sans-serif" font-size="12.4" font-weight="bold" fill="#3b3b3b" textLength="297.5" lengthAdjust="spacingAndGlyphs" >Comprehensive experiments across 8 unified models.</text>
<circle cx="587.3" cy="490.4" r="1.35" fill="#3b3b3b"/>
<text x="602.6" y="510.5" font-family="Liberation Sans, sans-serif" font-size="12.4" font-weight="bold" fill="#3b3b3b" textLength="385.0" lengthAdjust="spacingAndGlyphs" >In-depth analysis from the perspective of knowledge manipulation &amp;</text>
<circle cx="587.3" cy="506.3" r="1.35" fill="#3b3b3b"/>
<text x="602.6" y="527.4" font-family="Liberation Sans, sans-serif" font-size="12.4" font-weight="bold" fill="#3b3b3b" textLength="244.0" lengthAdjust="spacingAndGlyphs" >high-quality human-annonated training set.</text>
<line x1="1018.6" y1="100" x2="1018.6" y2="541" stroke="#d4d4d4" stroke-width="1.2"/>
<rect x="1027.4" y="83" width="142.4" height="455" rx="24" fill="none" stroke="#484848" stroke-width="2" stroke-dasharray="7.8,5"/>
<text x="1044.8" y="121.3" font-family="Liberation Sans, sans-serif" font-size="14.4" font-weight="bold" fill="#3b3b3b" textLength="108.4" lengthAdjust="spacingAndGlyphs" >Knowledge Inject</text>
<text x="1050.0" y="312.6" font-family="Liberation Sans, sans-serif" font-size="14.4" font-weight="bold" fill="#3b3b3b" textLength="98.8" lengthAdjust="spacingAndGlyphs" >Knowledge Edit</text>
<rect x="1042" y="128.5" width="121.0" height="67.5" fill="#fff" stroke="#c9c9c9" stroke-width="0.7"/><line x1="1040.5" y1="196.0" x2="1042" y2="196.0" stroke="#888" stroke-width="0.5"/><text x="1039.4" y="197.2" font-family="Liberation Sans, sans-serif" font-size="3.6" fill="#555" text-anchor="end">0.0</text><line x1="1040.5" y1="182.5" x2="1042" y2="182.5" stroke="#888" stroke-width="0.5"/><text x="1039.4" y="183.7" font-family="Liberation Sans, sans-serif" font-size="3.6" fill="#555" text-anchor="end">0.2</text><line x1="1040.5" y1="169.0" x2="1042" y2="169.0" stroke="#888" stroke-width="0.5"/><text x="1039.4" y="170.2" font-family="Liberation Sans, sans-serif" font-size="3.6" fill="#555" text-anchor="end">0.4</text><line x1="1040.5" y1="155.5" x2="1042" y2="155.5" stroke="#888" stroke-width="0.5"/><text x="1039.4" y="156.7" font-family="Liberation Sans, sans-serif" font-size="3.6" fill="#555" text-anchor="end">0.6</text><line x1="1040.5" y1="142.0" x2="1042" y2="142.0" stroke="#888" stroke-width="0.5"/><text x="1039.4" y="143.2" font-family="Liberation Sans, sans-serif" font-size="3.6" fill="#555" text-anchor="end">0.8</text><line x1="1040.5" y1="128.5" x2="1042" y2="128.5" stroke="#888" stroke-width="0.5"/><text x="1039.4" y="129.7" font-family="Liberation Sans, sans-serif" font-size="3.6" fill="#555" text-anchor="end">1.0</text><rect x="1047.8" y="150.1" width="7.3" height="45.9" fill="#dc9ba0"/><text x="1051.4" y="148.9" font-family="Liberation Sans, sans-serif" font-size="3.2" fill="#444" text-anchor="middle">0.68</text><rect x="1056.4" y="145.4" width="7.3" height="50.6" fill="#c5cfc9"/><text x="1060.1" y="144.2" font-family="Liberation Sans, sans-serif" font-size="3.2" fill="#444" text-anchor="middle">0.75</text><rect x="1065.1" y="148.8" width="7.3" height="47.2" fill="#7599b1"/><text x="1068.7" y="147.6" font-family="Liberation Sans, sans-serif" font-size="3.2" fill="#444" text-anchor="middle">0.70</text><text x="1060.1" y="201.2" font-family="Liberation Sans, sans-serif" font-size="3.8" fill="#444" text-anchor="middle">Bagel</text><rect x="1090.6" y="149.4" width="7.3" height="46.6" fill="#dc9ba0"/><text x="1094.2" y="148.2" font-family="Liberation Sans, sans-serif" font-size="3.2" fill="#444" text-anchor="middle">0.69</text><rect x="1099.2" y="146.1" width="7.3" height="50.0" fill="#c5cfc9"/><text x="1102.9" y="144.9" font-family="Liberation Sans, sans-serif" font-size="3.2" fill="#444" text-anchor="middle">0.74</text><rect x="1107.9" y="149.4" width="7.3" height="46.6" fill="#7599b1"/><text x="1111.5" y="148.2" font-family="Liberation Sans, sans-serif" font-size="3.2" fill="#444" text-anchor="middle">0.69</text><text x="1102.9" y="201.2" font-family="Liberation Sans, sans-serif" font-size="3.8" fill="#444" text-anchor="middle">OmniGen2</text><rect x="1133.5" y="164.9" width="7.3" height="31.1" fill="#dc9ba0"/><text x="1137.2" y="163.8" font-family="Liberation Sans, sans-serif" font-size="3.2" fill="#444" text-anchor="middle">0.46</text><rect x="1142.2" y="162.9" width="7.3" height="33.1" fill="#c5cfc9"/><text x="1145.8" y="161.7" font-family="Liberation Sans, sans-serif" font-size="3.2" fill="#444" text-anchor="middle">0.49</text><rect x="1150.8" y="151.4" width="7.3" height="44.6" fill="#7599b1"/><text x="1154.5" y="150.2" font-family="Liberation Sans, sans-serif" font-size="3.2" fill="#444" text-anchor="middle">0.66</text><text x="1145.8" y="201.2" font-family="Liberation Sans, sans-serif" font-size="3.8" fill="#444" text-anchor="middle">Show-o</text>
<rect x="1042" y="209.6" width="121.0" height="67.4" fill="#fff" stroke="#c9c9c9" stroke-width="0.7"/><line x1="1040.5" y1="277.0" x2="1042" y2="277.0" stroke="#888" stroke-width="0.5"/><text x="1039.4" y="278.2" font-family="Liberation Sans, sans-serif" font-size="3.6" fill="#555" text-anchor="end">0.0</text><line x1="1040.5" y1="263.5" x2="1042" y2="263.5" stroke="#888" stroke-width="0.5"/><text x="1039.4" y="264.7" font-family="Liberation Sans, sans-serif" font-size="3.6" fill="#555" text-anchor="end">0.2</text><line x1="1040.5" y1="250.0" x2="1042" y2="250.0" stroke="#888" stroke-width="0.5"/><text x="1039.4" y="251.2" font-family="Liberation Sans, sans-serif" font-size="3.6" fill="#555" text-anchor="end">0.4</text><line x1="1040.5" y1="236.6" x2="1042" y2="236.6" stroke="#888" stroke-width="0.5"/><text x="1039.4" y="237.8" font-family="Liberation Sans, sans-serif" font-size="3.6" fill="#555" text-anchor="end">0.6</text><line x1="1040.5" y1="223.1" x2="1042" y2="223.1" stroke="#888" stroke-width="0.5"/><text x="1039.4" y="224.3" font-family="Liberation Sans, sans-serif" font-size="3.6" fill="#555" text-anchor="end">0.8</text><line x1="1040.5" y1="209.6" x2="1042" y2="209.6" stroke="#888" stroke-width="0.5"/><text x="1039.4" y="210.8" font-family="Liberation Sans, sans-serif" font-size="3.6" fill="#555" text-anchor="end">1.0</text><rect x="1047.8" y="235.2" width="7.3" height="41.8" fill="#dc9ba0"/><text x="1051.4" y="234.0" font-family="Liberation Sans, sans-serif" font-size="3.2" fill="#444" text-anchor="middle">0.62</text><rect x="1056.4" y="248.7" width="7.3" height="28.3" fill="#c5cfc9"/><text x="1060.1" y="247.5" font-family="Liberation Sans, sans-serif" font-size="3.2" fill="#444" text-anchor="middle">0.42</text><rect x="1065.1" y="248.0" width="7.3" height="29.0" fill="#7599b1"/><text x="1068.7" y="246.8" font-family="Liberation Sans, sans-serif" font-size="3.2" fill="#444" text-anchor="middle">0.43</text><text x="1060.1" y="282.2" font-family="Liberation Sans, sans-serif" font-size="3.8" fill="#444" text-anchor="middle">Bagel</text><rect x="1090.6" y="217.0" width="7.3" height="60.0" fill="#dc9ba0"/><text x="1094.2" y="215.8" font-family="Liberation Sans, sans-serif" font-size="3.2" fill="#444" text-anchor="middle">0.89</text><rect x="1099.2" y="256.8" width="7.3" height="20.2" fill="#c5cfc9"/><text x="1102.9" y="255.6" font-family="Liberation Sans, sans-serif" font-size="3.2" fill="#444" text-anchor="middle">0.30</text><rect x="1107.9" y="256.8" width="7.3" height="20.2" fill="#7599b1"/><text x="1111.5" y="255.6" font-family="Liberation Sans, sans-serif" font-size="3.2" fill="#444" text-anchor="middle">0.30</text><text x="1102.9" y="282.2" font-family="Liberation Sans, sans-serif" font-size="3.8" fill="#444" text-anchor="middle">OmniGen2</text><rect x="1133.5" y="255.4" width="7.3" height="21.6" fill="#dc9ba0"/><text x="1137.2" y="254.2" font-family="Liberation Sans, sans-serif" font-size="3.2" fill="#444" text-anchor="middle">0.32</text><rect x="1142.2" y="277.0" width="7.3" height="0.0" fill="#c5cfc9"/><text x="1145.8" y="275.8" font-family="Liberation Sans, sans-serif" font-size="3.2" fill="#444" text-anchor="middle">0.00</text><rect x="1150.8" y="263.5" width="7.3" height="13.5" fill="#7599b1"/><text x="1154.5" y="262.3" font-family="Liberation Sans, sans-serif" font-size="3.2" fill="#444" text-anchor="middle">0.20</text><text x="1145.8" y="282.2" font-family="Liberation Sans, sans-serif" font-size="3.8" fill="#444" text-anchor="middle">Show-o</text>
<rect x="1041.5" y="319.7" width="121.0" height="66.9" fill="#fff" stroke="#c9c9c9" stroke-width="0.7"/><line x1="1040.0" y1="386.6" x2="1041.5" y2="386.6" stroke="#888" stroke-width="0.5"/><text x="1038.9" y="387.8" font-family="Liberation Sans, sans-serif" font-size="3.6" fill="#555" text-anchor="end">0.0</text><line x1="1040.0" y1="373.2" x2="1041.5" y2="373.2" stroke="#888" stroke-width="0.5"/><text x="1038.9" y="374.4" font-family="Liberation Sans, sans-serif" font-size="3.6" fill="#555" text-anchor="end">0.2</text><line x1="1040.0" y1="359.8" x2="1041.5" y2="359.8" stroke="#888" stroke-width="0.5"/><text x="1038.9" y="361.0" font-family="Liberation Sans, sans-serif" font-size="3.6" fill="#555" text-anchor="end">0.4</text><line x1="1040.0" y1="346.5" x2="1041.5" y2="346.5" stroke="#888" stroke-width="0.5"/><text x="1038.9" y="347.7" font-family="Liberation Sans, sans-serif" font-size="3.6" fill="#555" text-anchor="end">0.6</text><line x1="1040.0" y1="333.1" x2="1041.5" y2="333.1" stroke="#888" stroke-width="0.5"/><text x="1038.9" y="334.3" font-family="Liberation Sans, sans-serif" font-size="3.6" fill="#555" text-anchor="end">0.8</text><line x1="1040.0" y1="319.7" x2="1041.5" y2="319.7" stroke="#888" stroke-width="0.5"/><text x="1038.9" y="320.9" font-family="Liberation Sans, sans-serif" font-size="3.6" fill="#555" text-anchor="end">1.0</text><rect x="1047.3" y="384.6" width="7.3" height="2.0" fill="#dc9ba0"/><text x="1050.9" y="383.4" font-family="Liberation Sans, sans-serif" font-size="3.2" fill="#444" text-anchor="middle">0.03</text><rect x="1055.9" y="381.9" width="7.3" height="4.7" fill="#c5cfc9"/><text x="1059.6" y="380.7" font-family="Liberation Sans, sans-serif" font-size="3.2" fill="#444" text-anchor="middle">0.07</text><rect x="1064.6" y="384.6" width="7.3" height="2.0" fill="#7599b1"/><text x="1068.2" y="383.4" font-family="Liberation Sans, sans-serif" font-size="3.2" fill="#444" text-anchor="middle">0.03</text><text x="1059.6" y="391.8" font-family="Liberation Sans, sans-serif" font-size="3.8" fill="#444" text-anchor="middle">Bagel</text><rect x="1090.1" y="382.6" width="7.3" height="4.0" fill="#dc9ba0"/><text x="1093.7" y="381.4" font-family="Liberation Sans, sans-serif" font-size="3.2" fill="#444" text-anchor="middle">0.06</text><rect x="1098.7" y="367.9" width="7.3" height="18.7" fill="#c5cfc9"/><text x="1102.4" y="366.7" font-family="Liberation Sans, sans-serif" font-size="3.2" fill="#444" text-anchor="middle">0.28</text><rect x="1107.4" y="384.6" width="7.3" height="2.0" fill="#7599b1"/><text x="1111.0" y="383.4" font-family="Liberation Sans, sans-serif" font-size="3.2" fill="#444" text-anchor="middle">0.03</text><text x="1102.4" y="391.8" font-family="Liberation Sans, sans-serif" font-size="3.8" fill="#444" text-anchor="middle">OmniGen2</text><rect x="1133.0" y="385.9" width="7.3" height="0.7" fill="#dc9ba0"/><text x="1136.7" y="384.7" font-family="Liberation Sans, sans-serif" font-size="3.2" fill="#444" text-anchor="middle">0.01</text><rect x="1141.7" y="327.1" width="7.3" height="59.5" fill="#c5cfc9"/><text x="1145.3" y="325.9" font-family="Liberation Sans, sans-serif" font-size="3.2" fill="#444" text-anchor="middle">0.89</text><rect x="1150.3" y="383.3" width="7.3" height="3.3" fill="#7599b1"/><text x="1154.0" y="382.1" font-family="Liberation Sans, sans-serif" font-size="3.2" fill="#444" text-anchor="middle">0.05</text><text x="1145.3" y="391.8" font-family="Liberation Sans, sans-serif" font-size="3.8" fill="#444" text-anchor="middle">Show-o</text>
<rect x="1041.5" y="398.6" width="121.0" height="66.1" fill="#fff" stroke="#c9c9c9" stroke-width="0.7"/><line x1="1040.0" y1="464.7" x2="1041.5" y2="464.7" stroke="#888" stroke-width="0.5"/><text x="1038.9" y="465.9" font-family="Liberation Sans, sans-serif" font-size="3.6" fill="#555" text-anchor="end">0.0</text><line x1="1040.0" y1="451.5" x2="1041.5" y2="451.5" stroke="#888" stroke-width="0.5"/><text x="1038.9" y="452.7" font-family="Liberation Sans, sans-serif" font-size="3.6" fill="#555" text-anchor="end">0.2</text><line x1="1040.0" y1="438.3" x2="1041.5" y2="438.3" stroke="#888" stroke-width="0.5"/><text x="1038.9" y="439.5" font-family="Liberation Sans, sans-serif" font-size="3.6" fill="#555" text-anchor="end">0.4</text><line x1="1040.0" y1="425.0" x2="1041.5" y2="425.0" stroke="#888" stroke-width="0.5"/><text x="1038.9" y="426.2" font-family="Liberation Sans, sans-serif" font-size="3.6" fill="#555" text-anchor="end">0.6</text><line x1="1040.0" y1="411.8" x2="1041.5" y2="411.8" stroke="#888" stroke-width="0.5"/><text x="1038.9" y="413.0" font-family="Liberation Sans, sans-serif" font-size="3.6" fill="#555" text-anchor="end">0.8</text><line x1="1040.0" y1="398.6" x2="1041.5" y2="398.6" stroke="#888" stroke-width="0.5"/><text x="1038.9" y="399.8" font-family="Liberation Sans, sans-serif" font-size="3.6" fill="#555" text-anchor="end">1.0</text><rect x="1047.3" y="423.7" width="7.3" height="41.0" fill="#dc9ba0"/><text x="1050.9" y="422.5" font-family="Liberation Sans, sans-serif" font-size="3.2" fill="#444" text-anchor="middle">0.62</text><rect x="1055.9" y="464.0" width="7.3" height="0.7" fill="#c5cfc9"/><text x="1059.6" y="462.8" font-family="Liberation Sans, sans-serif" font-size="3.2" fill="#444" text-anchor="middle">0.01</text><rect x="1064.6" y="464.0" width="7.3" height="0.7" fill="#7599b1"/><text x="1068.2" y="462.8" font-family="Liberation Sans, sans-serif" font-size="3.2" fill="#444" text-anchor="middle">0.01</text><text x="1059.6" y="469.9" font-family="Liberation Sans, sans-serif" font-size="3.8" fill="#444" text-anchor="middle">Bagel</text><rect x="1090.1" y="427.7" width="7.3" height="37.0" fill="#dc9ba0"/><text x="1093.7" y="426.5" font-family="Liberation Sans, sans-serif" font-size="3.2" fill="#444" text-anchor="middle">0.56</text><rect x="1098.7" y="464.0" width="7.3" height="0.7" fill="#c5cfc9"/><text x="1102.4" y="462.8" font-family="Liberation Sans, sans-serif" font-size="3.2" fill="#444" text-anchor="middle">0.01</text><rect x="1107.4" y="462.7" width="7.3" height="2.0" fill="#7599b1"/><text x="1111.0" y="461.5" font-family="Liberation Sans, sans-serif" font-size="3.2" fill="#444" text-anchor="middle">0.03</text><text x="1102.4" y="469.9" font-family="Liberation Sans, sans-serif" font-size="3.8" fill="#444" text-anchor="middle">OmniGen2</text><rect x="1133.0" y="451.5" width="7.3" height="13.2" fill="#dc9ba0"/><text x="1136.7" y="450.3" font-family="Liberation Sans, sans-serif" font-size="3.2" fill="#444" text-anchor="middle">0.20</text><rect x="1141.7" y="464.0" width="7.3" height="0.7" fill="#c5cfc9"/><text x="1145.3" y="462.8" font-family="Liberation Sans, sans-serif" font-size="3.2" fill="#444" text-anchor="middle">0.01</text><rect x="1150.3" y="463.4" width="7.3" height="1.3" fill="#7599b1"/><text x="1154.0" y="462.2" font-family="Liberation Sans, sans-serif" font-size="3.2" fill="#444" text-anchor="middle">0.02</text><text x="1145.3" y="469.9" font-family="Liberation Sans, sans-serif" font-size="3.8" fill="#444" text-anchor="middle">Show-o</text>
<rect x="1045.8" y="483.4" width="16.8" height="9.8" fill="#dc9ba0" stroke="#8c8c8c" stroke-width="0.8"/>
<text x="1067.9" y="490.5" font-family="Liberation Sans, sans-serif" font-size="8.7" font-weight="bold" fill="#333" textLength="56.2" lengthAdjust="spacingAndGlyphs" >Train on Und.</text>
<rect x="1045.8" y="500.1" width="16.8" height="9.8" fill="#c5cfc9" stroke="#8c8c8c" stroke-width="0.8"/>
<text x="1067.9" y="507.2" font-family="Liberation Sans, sans-serif" font-size="8.7" font-weight="bold" fill="#333" textLength="56.2" lengthAdjust="spacingAndGlyphs" >Train on Gen.</text>
<rect x="1045.8" y="518.6" width="16.8" height="9.8" fill="#7599b1" stroke="#8c8c8c" stroke-width="0.8"/>
<text x="1067.9" y="525.7" font-family="Liberation Sans, sans-serif" font-size="8.7" font-weight="bold" fill="#333" textLength="34.2" lengthAdjust="spacingAndGlyphs" >Baseline</text>
<defs><clipPath id="rbclip"><rect x="1050" y="0" width="120" height="101.2"/></clipPath></defs><g clip-path="url(#rbclip)"><g transform="translate(1050,10) scale(0.1273)" stroke="#5a598e" stroke-width="19" stroke-linejoin="round" stroke-linecap="round"><path d="M215,722 L245,630 L400,640 L410,722" fill="#f59ca5"/><path d="M425,722 L430,640 L585,630 L610,722" fill="#f59ca5"/><path d="M200,250 C120,300 100,420 110,520 L200,600 L230,300 Z" fill="#a9abc6"/><ellipse cx="195" cy="310" rx="48" ry="62" fill="#f59ca5"/><path d="M115,500 C105,560 150,620 215,615 L200,480 Z" fill="#f59ca5"/><path d="M520,85 C640,55 700,150 700,250" fill="none"/><path d="M600,260 C720,300 760,420 740,520 L580,560 Z" fill="#a9abc6"/><path d="M385,290 C230,290 185,400 195,500 C205,600 290,650 400,650 C520,650 590,590 590,480 C590,380 540,290 385,290 Z" fill="#a9abc6"/><circle cx="620" cy="305" r="92" fill="#f59ca5"/><path d="M575,500 C640,470 720,480 745,505 C760,570 700,630 640,625 C590,620 565,560 575,500 Z" fill="#f59ca5"/><path d="M222,222 C232,105 335,48 420,52 C525,58 592,130 598,212 C545,272 445,306 335,305 C280,304 238,275 222,222 Z" fill="#a9abc6"/><rect x="303" y="168" width="21" height="46" fill="#5a598e" stroke="none"/><rect x="393" y="168" width="21" height="46" fill="#5a598e" stroke="none"/><rect x="255" y="408" width="213" height="145" fill="#a9abc6"/><rect x="275" y="428" width="173" height="105" fill="#fbd892" stroke="none"/><rect x="305" y="450" width="20" height="55" fill="#b093a0" stroke="none"/><rect x="352" y="450" width="20" height="55" fill="#b093a0" stroke="none"/><rect x="400" y="450" width="20" height="55" fill="#b093a0" stroke="none"/></g></g>
<line x1="474.6" y1="596" x2="474.6" y2="750" stroke="#dcdcdc" stroke-width="1.2"/>
<line x1="709.6" y1="596" x2="709.6" y2="750" stroke="#dcdcdc" stroke-width="1.2"/>
<line x1="943.5" y1="596" x2="943.5" y2="750" stroke="#dcdcdc" stroke-width="1.2"/>
<rect x="246.9" y="549.6" width="218.4" height="36.2" fill="#a9b3c9" stroke="#1a1a1a" stroke-width="1.9"/><rect x="249.0" y="551.7" width="214.2" height="32.0" fill="none" stroke="#555" stroke-width="0.5"/><text x="263.4" y="573.9" font-family="Liberation Serif, serif" font-size="20.5" font-weight="bold" fill="#000" textLength="186.3" lengthAdjust="spacingAndGlyphs" >Instruction Following</text>
<rect x="247.8" y="588.2" width="217.5" height="183.0" fill="#eff1f6" stroke="#111" stroke-width="1.4"/>
<g transform="translate(265.4,604)" fill="none" stroke="#111" stroke-width="1.45" stroke-linejoin="round" stroke-linecap="round"><path d="M3.6,8.2 C7.6,10.6 12.2,8 12.2,4 C12.2,1.4 11,-0.6 9,-1.8"/><path d="M8.6,8.8 L12,10.9 L10.8,7.2"/><path d="M0,-7.4 A8,7.2 0 1 1 -4.4,6 L-8.3,7.9 L-6.9,3.6 A8,7.2 0 0 1 0,-7.4 Z" fill="none"/><text x="0.2" y="3.9" font-family="Liberation Sans, sans-serif" font-size="11.5" font-weight="bold" fill="#111" stroke="none" text-anchor="middle">?</text></g>
<text x="282.4" y="613.1" font-family="Liberation Sans, sans-serif" font-size="13.5" font-weight="bold" fill="#2e75b6" textLength="53.1" lengthAdjust="spacingAndGlyphs" >Question</text>
<text x="260.4" y="631.1" font-family="Liberation Sans, sans-serif" font-size="10.6" font-weight="bold" textLength="180.3" lengthAdjust="spacingAndGlyphs"><tspan fill="#f4a9b8" stroke="#f4a9b8" stroke-width="0.35">Und</tspan><tspan fill="#111">: Describe the below picture after</tspan></text>
<text x="257.6" y="644.4" font-family="Liberation Sans, sans-serif" font-size="10.6" font-weight="bold" fill="#111" textLength="145.5" lengthAdjust="spacingAndGlyphs" >being shattered by a hammer.</text>
<text x="260.4" y="659.5" font-family="Liberation Sans, sans-serif" font-size="10.6" font-weight="bold" textLength="181.8" lengthAdjust="spacingAndGlyphs"><tspan fill="#f4a9b8" stroke="#f4a9b8" stroke-width="0.35">Gen</tspan><tspan fill="#111">: Draw what it will look like after</tspan></text>
<text x="257.6" y="673.0" font-family="Liberation Sans, sans-serif" font-size="10.6" font-weight="bold" fill="#111" textLength="145.5" lengthAdjust="spacingAndGlyphs" >being shattered by a hammer.</text>
<line x1="259.2" y1="681" x2="456.3" y2="681" stroke="#2a2a2a" stroke-width="0.9" stroke-dasharray="2.6,1.1"/><path d="M256.2,681 L260.4,679 V683 Z" fill="#111"/>
<defs><linearGradient id="vbg" x1="0" x2="0" y1="0" y2="1"><stop offset="0" stop-color="#646464"/><stop offset="0.4" stop-color="#929292"/><stop offset="0.75" stop-color="#cfcfcf"/><stop offset="1" stop-color="#e8e8e8"/></linearGradient><linearGradient id="vs" x1="0" x2="1"><stop offset="0" stop-color="#c3d2cb"/><stop offset="0.35" stop-color="#eef4f0"/><stop offset="1" stop-color="#b3c4bc"/></linearGradient></defs>
<rect x="260" y="688.8" width="58.8" height="59.4" fill="url(#vbg)"/>
<ellipse cx="289.5" cy="743" rx="9.5" ry="1.8" fill="#b5b0a8" opacity="0.8"/>
<path d="M282.4,697.2 H297 L295.6,699.4 V704 C300.5,707 300.6,713 299.6,717 C298.6,727 297.2,736 296.4,742.6 H282.6 C281.8,736 280.4,727 279.4,717 C278.4,713 278.5,707 283.8,704 V699.4 Z" fill="url(#vs)"/><path d="M292.6,712 C290.5,717 292.8,722 290.4,728 C289,732 288.4,737 288.8,741 M291.4,719 L286.2,715.6 M291.2,722.5 L295.6,719.6 M290,729.5 L285.6,727 M289.4,735 L293,732.6 M286.2,715.6 L284.6,718.6" stroke="#3f6f62" stroke-width="1.05" fill="none" opacity="0.9"/><circle cx="286" cy="715.4" r="1.5" fill="#4f8573" opacity="0.9"/><circle cx="295.4" cy="719.6" r="1.4" fill="#4f8573" opacity="0.9"/><circle cx="285.6" cy="727" r="1.5" fill="#4f8573" opacity="0.9"/><circle cx="292.8" cy="711.6" r="1.3" fill="#4f8573" opacity="0.9"/><circle cx="288" cy="739.4" r="2" fill="#4f8573" opacity="0.8"/><circle cx="292.6" cy="733" r="1.2" fill="#4f8573" opacity="0.8"/>
<text x="254.7" y="758.6" font-family="Liberation Sans, sans-serif" font-size="9.2" font-weight="bold" fill="#111" textLength="72.7" lengthAdjust="spacingAndGlyphs" >[Question Image]</text>
<g transform="translate(328.3,690.4)"><path d="M1,0 H13.2 Q14.2,0 14.2,1 V8.6 Q14.2,9.6 13.2,9.6 H5.2 L1.6,12.8 V9.6 H1 Q0,9.6 0,8.6 V1 Q0,0 1,0 Z" fill="#111"/><path d="M5.4,4.6 L7,6.2 L10,2.8" stroke="#fff" stroke-width="1.2" fill="none"/></g>
<text x="349.9" y="701.2" font-family="Liberation Sans, sans-serif" font-size="11.2" font-weight="bold" fill="#a9d18e" textLength="73.6" lengthAdjust="spacingAndGlyphs" >Reference Text:</text>
<text x="349.9" y="714.4" font-family="Liberation Sans, sans-serif" font-size="9.3" font-weight="bold" fill="#111" textLength="78.0" lengthAdjust="spacingAndGlyphs" >The vase has been</text>
<text x="349.9" y="725.9" font-family="Liberation Sans, sans-serif" font-size="9.3" font-weight="bold" fill="#111" textLength="86.7" lengthAdjust="spacingAndGlyphs" >broken into pieces ...</text>
<text x="349.9" y="743.2" font-family="Liberation Sans, sans-serif" font-size="11.2" font-weight="bold" fill="#a9d18e" textLength="84.2" lengthAdjust="spacingAndGlyphs" >Reference Image:</text>
<text x="349.9" y="756.1" font-family="Liberation Sans, sans-serif" font-size="9.3" font-weight="bold" fill="#111" textLength="66.8" lengthAdjust="spacingAndGlyphs" >[A broken vase]</text>
<rect x="483" y="549.6" width="217.7" height="36.2" fill="#e2efda" stroke="#1a1a1a" stroke-width="1.9"/><rect x="485.1" y="551.7" width="213.5" height="32.0" fill="none" stroke="#555" stroke-width="0.5"/><text x="497.3" y="573.9" font-family="Liberation Serif, serif" font-size="20.5" font-weight="bold" fill="#000" textLength="188.4" lengthAdjust="spacingAndGlyphs" >Numerical Perception</text>
<rect x="483.9" y="588.2" width="216.8" height="183.0" fill="#f0f5e9" stroke="#111" stroke-width="1.4"/>
<g transform="translate(497.6,602.3)" fill="none" stroke="#111" stroke-width="1.45" stroke-linejoin="round" stroke-linecap="round"><path d="M3.6,8.2 C7.6,10.6 12.2,8 12.2,4 C12.2,1.4 11,-0.6 9,-1.8"/><path d="M8.6,8.8 L12,10.9 L10.8,7.2"/><path d="M0,-7.4 A8,7.2 0 1 1 -4.4,6 L-8.3,7.9 L-6.9,3.6 A8,7.2 0 0 1 0,-7.4 Z" fill="none"/><text x="0.2" y="3.9" font-family="Liberation Sans, sans-serif" font-size="11.5" font-weight="bold" fill="#111" stroke="none" text-anchor="middle">?</text></g>
<text x="512.3" y="612.0" font-family="Liberation Sans, sans-serif" font-size="13.2" font-weight="bold" fill="#2e75b6" textLength="52.7" lengthAdjust="spacingAndGlyphs" >Question</text>
<text x="495.3" y="625.7" font-family="Liberation Sans, sans-serif" font-size="8.6" font-weight="bold" fill="#111" textLength="133.9" lengthAdjust="spacingAndGlyphs" >In the provided image, a certain</text>
<text x="495.3" y="637.4" font-family="Liberation Sans, sans-serif" font-size="8.6" font-weight="bold" fill="#111" textLength="141.2" lengthAdjust="spacingAndGlyphs" >number of basketballs and soccer</text>
<text x="495.3" y="649.6" font-family="Liberation Sans, sans-serif" font-size="8.6" font-weight="bold" fill="#111" textLength="72.5" lengthAdjust="spacingAndGlyphs" >balls are present.</text>
<text x="493.0" y="665.3" font-family="Liberation Sans, sans-serif" font-size="8.6" font-weight="bold" fill="#111" textLength="193.4" lengthAdjust="spacingAndGlyphs" >[Swap the number of basketball &amp; soccer ball]</text>
<line x1="494.4" y1="674.9" x2="691.4" y2="674.9" stroke="#2a2a2a" stroke-width="0.9" stroke-dasharray="2.6,1.1"/><path d="M491.4,674.9 L495.59999999999997,672.9 V676.9 Z" fill="#111"/>
<text x="501.5" y="696.9" font-family="Liberation Sans, sans-serif" font-size="10.8" font-weight="bold" textLength="160.0" lengthAdjust="spacingAndGlyphs"><tspan fill="#f4a9b8" stroke="#f4a9b8" stroke-width="0.35">Und</tspan><tspan fill="#111">: How many basketballs and</tspan></text>
<text x="498.7" y="711.5" font-family="Liberation Sans, sans-serif" font-size="10.8" font-weight="bold" fill="#111" textLength="119.6" lengthAdjust="spacingAndGlyphs" >soccer balls are needed?</text>
<text x="501.5" y="727.7" font-family="Liberation Sans, sans-serif" font-size="10.8" font-weight="bold" textLength="175.2" lengthAdjust="spacingAndGlyphs"><tspan fill="#f4a9b8" stroke="#f4a9b8" stroke-width="0.35">Gen</tspan><tspan fill="#111">: Generate an image containing</tspan></text>
<text x="498.7" y="741.5" font-family="Liberation Sans, sans-serif" font-size="10.8" font-weight="bold" fill="#111" textLength="168.1" lengthAdjust="spacingAndGlyphs" >certain number of basketballs and</text>
<text x="498.7" y="755.4" font-family="Liberation Sans, sans-serif" font-size="10.8" font-weight="bold" fill="#111" textLength="59.8" lengthAdjust="spacingAndGlyphs" >soccer balls.</text>
<defs><linearGradient id="bbg" x1="0" x2="0" y1="0" y2="1"><stop offset="0" stop-color="#1b1d22"/><stop offset="0.78" stop-color="#2f3035"/><stop offset="0.86" stop-color="#5a4f49"/><stop offset="1" stop-color="#6e5f55"/></linearGradient><radialGradient id="bb" cx="40%" cy="35%" r="65%"><stop offset="0" stop-color="#c9703d"/><stop offset="1" stop-color="#7a3416"/></radialGradient><radialGradient id="sb" cx="40%" cy="35%" r="70%"><stop offset="0" stop-color="#ffffff"/><stop offset="0.7" stop-color="#d9d9d9"/><stop offset="1" stop-color="#8a8a8a"/></radialGradient></defs>
<rect x="653.2" y="593.8" width="33.2" height="55.8" fill="url(#bbg)"/>
<circle cx="662.2" cy="605.4" r="6.6" fill="url(#bb)"/><path d="M656.2,605.4 H668.2 M662.2,599.4 V611.4" stroke="#5a2410" stroke-width="0.6" fill="none"/>
<circle cx="677.4" cy="605.2" r="6.6" fill="url(#sb)"/><path d="M675.8,603.0 l2.2,-1.6 l2.2,1.6 l-0.8,2.6 h-2.8 Z" fill="#222"/><circle cx="672.8" cy="606.8000000000001" r="1.3" fill="#333"/><circle cx="682.3" cy="606.4000000000001" r="1.2" fill="#333"/><circle cx="678.0" cy="610.4000000000001" r="1.2" fill="#333"/><circle cx="680.1999999999999" cy="600.0" r="1" fill="#333"/>
<circle cx="662.2" cy="621.4" r="6.6" fill="url(#bb)"/><path d="M656.2,621.4 H668.2 M662.2,615.4 V627.4" stroke="#5a2410" stroke-width="0.6" fill="none"/>
<circle cx="677.4" cy="621.4" r="6.6" fill="url(#sb)"/><path d="M675.8,619.1999999999999 l2.2,-1.6 l2.2,1.6 l-0.8,2.6 h-2.8 Z" fill="#222"/><circle cx="672.8" cy="623.0" r="1.3" fill="#333"/><circle cx="682.3" cy="622.6" r="1.2" fill="#333"/><circle cx="678.0" cy="626.6" r="1.2" fill="#333"/><circle cx="680.1999999999999" cy="616.1999999999999" r="1" fill="#333"/>
<circle cx="662.2" cy="637.4" r="6.6" fill="url(#sb)"/><path d="M660.6,635.1999999999999 l2.2,-1.6 l2.2,1.6 l-0.8,2.6 h-2.8 Z" fill="#222"/><circle cx="657.6" cy="639.0" r="1.3" fill="#333"/><circle cx="667.1" cy="638.6" r="1.2" fill="#333"/><circle cx="662.8000000000001" cy="642.6" r="1.2" fill="#333"/><circle cx="665.0" cy="632.1999999999999" r="1" fill="#333"/>
<circle cx="677.4" cy="637.4" r="6.6" fill="url(#sb)"/><path d="M675.8,635.1999999999999 l2.2,-1.6 l2.2,1.6 l-0.8,2.6 h-2.8 Z" fill="#222"/><circle cx="672.8" cy="639.0" r="1.3" fill="#333"/><circle cx="682.3" cy="638.6" r="1.2" fill="#333"/><circle cx="678.0" cy="642.6" r="1.2" fill="#333"/><circle cx="680.1999999999999" cy="632.1999999999999" r="1" fill="#333"/>
<rect x="717" y="549.6" width="218.5" height="36.2" fill="#fff2cc" stroke="#1a1a1a" stroke-width="1.9"/><rect x="719.1" y="551.7" width="214.3" height="32.0" fill="none" stroke="#555" stroke-width="0.5"/><text x="748.0" y="573.9" font-family="Liberation Serif, serif" font-size="20.5" font-weight="bold" fill="#000" textLength="156.5" lengthAdjust="spacingAndGlyphs" >World Knowledge</text>
<rect x="717.9" y="588.2" width="217.6" height="183.0" fill="#fff9e6" stroke="#111" stroke-width="1.4"/>
<g transform="translate(734.1,602.2)" fill="none" stroke="#111" stroke-width="1.45" stroke-linejoin="round" stroke-linecap="round"><path d="M3.6,8.2 C7.6,10.6 12.2,8 12.2,4 C12.2,1.4 11,-0.6 9,-1.8"/><path d="M8.6,8.8 L12,10.9 L10.8,7.2"/><path d="M0,-7.4 A8,7.2 0 1 1 -4.4,6 L-8.3,7.9 L-6.9,3.6 A8,7.2 0 0 1 0,-7.4 Z" fill="none"/><text x="0.2" y="3.9" font-family="Liberation Sans, sans-serif" font-size="11.5" font-weight="bold" fill="#111" stroke="none" text-anchor="middle">?</text></g>
<text x="750.6" y="610.3" font-family="Liberation Sans, sans-serif" font-size="13.2" font-weight="bold" fill="#2e75b6" textLength="53.2" lengthAdjust="spacingAndGlyphs" >Question</text>
<text x="733.5" y="623.5" font-family="Liberation Sans, sans-serif" font-size="8.6" font-weight="bold" fill="#111" textLength="192.0" lengthAdjust="spacingAndGlyphs" >During the harvest celebration in Korea, there</text>
<text x="733.5" y="636.2" font-family="Liberation Sans, sans-serif" font-size="8.6" font-weight="bold" fill="#111" textLength="169.5" lengthAdjust="spacingAndGlyphs" >is a kind of sports activity where people</text>
<text x="733.5" y="649.8" font-family="Liberation Sans, sans-serif" font-size="8.6" font-weight="bold" fill="#111" textLength="185.0" lengthAdjust="spacingAndGlyphs" >compete in strength to celebrate the harvest.</text>
<line x1="728.5" y1="663.2" x2="926" y2="663.2" stroke="#2a2a2a" stroke-width="0.9" stroke-dasharray="2.6,1.1"/><path d="M725.5,663.2 L729.7,661.2 V665.2 Z" fill="#111"/>
<text x="737.0" y="683.6" font-family="Liberation Sans, sans-serif" font-size="10.8" font-weight="bold" textLength="127.0" lengthAdjust="spacingAndGlyphs"><tspan fill="#f4a9b8" stroke="#f4a9b8" stroke-width="0.35">Und</tspan><tspan fill="#111">: What is this activity?</tspan></text>
<text x="737.0" y="702.6" font-family="Liberation Sans, sans-serif" font-size="10.8" font-weight="bold" textLength="186.0" lengthAdjust="spacingAndGlyphs"><tspan fill="#f4a9b8" stroke="#f4a9b8" stroke-width="0.35">Gen</tspan><tspan fill="#111">: Generate a photo of this activity.</tspan></text>
<line x1="728.8" y1="716.4" x2="838.7" y2="716.4" stroke="#2a2a2a" stroke-width="0.9" stroke-dasharray="2.6,1.1"/><path d="M725.8,716.4 L730.0,714.4 V718.4 Z" fill="#111"/>
<g transform="translate(732,726)"><path d="M1,0 H13.2 Q14.2,0 14.2,1 V8.6 Q14.2,9.6 13.2,9.6 H5.2 L1.6,12.8 V9.6 H1 Q0,9.6 0,8.6 V1 Q0,0 1,0 Z" fill="#111"/><path d="M5.4,4.6 L7,6.2 L10,2.8" stroke="#fff" stroke-width="1.2" fill="none"/></g>
<text x="751.8" y="736.4" font-family="Liberation Sans, sans-serif" font-size="12.8" font-weight="bold" textLength="51.2" lengthAdjust="spacingAndGlyphs"><tspan fill="#a9d18e">Answer</tspan><tspan fill="#222">:</tspan></text>
<text x="737.4" y="753.9" font-family="Liberation Sans, sans-serif" font-size="11" font-weight="bold" fill="#111" textLength="114.6" lengthAdjust="spacingAndGlyphs" >This activity is Ssireum.</text>
<defs><linearGradient id="wbg" x1="0" x2="0" y1="0" y2="1"><stop offset="0" stop-color="#2b1d17"/><stop offset="0.3" stop-color="#3a2a22"/><stop offset="0.55" stop-color="#4a3d35"/><stop offset="0.62" stop-color="#b9966e"/><stop offset="1" stop-color="#c6a078"/></linearGradient><filter id="pb" x="-5%" y="-5%" width="110%" height="110%"><feGaussianBlur stdDeviation="0.55"/></filter><clipPath id="wclip"><rect x="857" y="711.2" width="62.1" height="48.8"/></clipPath></defs>
<rect x="857" y="711.2" width="62.1" height="48.8" fill="url(#wbg)"/>
<g clip-path="url(#wclip)"><g filter="url(#pb)"><path d="M857,711 H919 V716 L900,713 L880,717 L857,714 Z" fill="#6a4a36"/><rect x="857" y="727" width="14" height="12" fill="#2e2b2e"/><rect x="906" y="724" width="13" height="15" fill="#35323a"/><rect x="860" y="729" width="3" height="4" fill="#7b8aa0"/><rect x="911" y="727" width="3" height="4" fill="#9a8f86"/><path d="M881,724 C884,718 891,716 896,719 L899,724 L906,733 L903,736 L894,729 L890,735 L879,734 Z" fill="#c88f6d"/><circle cx="893.6" cy="715.8" r="2.9" fill="#1f1612"/><path d="M892,722 C898,720 906,724 908,731 L910,737 L899,737 L893,730 Z" fill="#ecebe8"/><circle cx="891.6" cy="722.6" r="2.6" fill="#1d1512"/><path d="M898,733 L910,731.5 L911,736 L899,737.5 Z" fill="#23201f"/><path d="M874,732 C878,729 884,731 888,735 L886,747 C882,750 876,750 871,747 Z" fill="#e9e7e2"/><path d="M889,736 C896,734 908,735 913,739 C915,744 913,748 910,750 L898,749 L892,750 C889,746 888,740 889,736 Z" fill="#efeeea"/><path d="M877,733 L888,736 L887,739 L876,736 Z" fill="#2a2522"/><path d="M872,747 L877,749 L871,757 L865,757 Z" fill="#c48e6c"/><path d="M884,747 L888,748 L892,757 L887,757 Z" fill="#c08a69"/><path d="M893,749 L897,749 L896,757 L891,757 Z" fill="#c48e6c"/><path d="M907,749 L911,748 L915,757 L909,757 Z" fill="#c48e6c"/><ellipse cx="890" cy="757.6" rx="26" ry="1.6" fill="#8d6e50" opacity="0.55"/></g></g>
<rect x="952" y="549.6" width="218.5" height="36.2" fill="#fbdde2" stroke="#1a1a1a" stroke-width="1.9"/><rect x="954.1" y="551.7" width="214.3" height="32.0" fill="none" stroke="#555" stroke-width="0.5"/><text x="1017.0" y="573.9" font-family="Liberation Serif, serif" font-size="20.5" font-weight="bold" fill="#000" textLength="89.0" lengthAdjust="spacingAndGlyphs" >Reasoning</text>
<rect x="952.9" y="588.2" width="217.6" height="183.0" fill="#fef5f6" stroke="#111" stroke-width="1.4"/>
<g transform="translate(968.6,602.2)" fill="none" stroke="#111" stroke-width="1.45" stroke-linejoin="round" stroke-linecap="round"><path d="M3.6,8.2 C7.6,10.6 12.2,8 12.2,4 C12.2,1.4 11,-0.6 9,-1.8"/><path d="M8.6,8.8 L12,10.9 L10.8,7.2"/><path d="M0,-7.4 A8,7.2 0 1 1 -4.4,6 L-8.3,7.9 L-6.9,3.6 A8,7.2 0 0 1 0,-7.4 Z" fill="none"/><text x="0.2" y="3.9" font-family="Liberation Sans, sans-serif" font-size="11.5" font-weight="bold" fill="#111" stroke="none" text-anchor="middle">?</text></g>
<text x="983.3" y="610.4" font-family="Liberation Sans, sans-serif" font-size="13.2" font-weight="bold" fill="#2e75b6" textLength="53.0" lengthAdjust="spacingAndGlyphs" >Question</text>
<text x="966.0" y="623.9" font-family="Liberation Sans, sans-serif" font-size="8.6" font-weight="bold" fill="#111" textLength="132.0" lengthAdjust="spacingAndGlyphs" >Select the option (A/B/C/D) that</text>
<text x="966.0" y="635.8" font-family="Liberation Sans, sans-serif" font-size="8.6" font-weight="bold" fill="#111" textLength="117.0" lengthAdjust="spacingAndGlyphs" >restores the puzzle to target</text>
<text x="966.0" y="648.3" font-family="Liberation Sans, sans-serif" font-size="8.6" font-weight="bold" fill="#111" textLength="113.5" lengthAdjust="spacingAndGlyphs" >order. Identify the multiple-</text>
<text x="966.0" y="660.2" font-family="Liberation Sans, sans-serif" font-size="8.6" font-weight="bold" fill="#111" textLength="121.5" lengthAdjust="spacingAndGlyphs" >choice questions and options</text>
<text x="966.0" y="672.7" font-family="Liberation Sans, sans-serif" font-size="8.6" font-weight="bold" fill="#111" textLength="126.0" lengthAdjust="spacingAndGlyphs" >(A, B, C, D, etc.) in the picture.</text>
<line x1="964.2" y1="678.8" x2="1161.4" y2="678.8" stroke="#2a2a2a" stroke-width="0.9" stroke-dasharray="2.6,1.1"/><path d="M961.2,678.8 L965.4000000000001,676.8 V680.8 Z" fill="#111"/>
<text x="969.5" y="693.6" font-family="Liberation Sans, sans-serif" font-size="10.8" font-weight="bold" textLength="192.5" lengthAdjust="spacingAndGlyphs"><tspan fill="#f4a9b8" stroke="#f4a9b8" stroke-width="0.35">Und</tspan><tspan fill="#111">: Output the text stating the definite</tspan></text>
<text x="966.0" y="707.6" font-family="Liberation Sans, sans-serif" font-size="10.8" font-weight="bold" fill="#111" textLength="119.0" lengthAdjust="spacingAndGlyphs" >correct option you think.</text>
<text x="969.5" y="722.6" font-family="Liberation Sans, sans-serif" font-size="10.8" font-weight="bold" textLength="182.5" lengthAdjust="spacingAndGlyphs"><tspan fill="#f4a9b8" stroke="#f4a9b8" stroke-width="0.35">Gen</tspan><tspan fill="#111">: Output the picture by drawing a</tspan></text>
<text x="966.0" y="736.6" font-family="Liberation Sans, sans-serif" font-size="10.8" font-weight="bold" fill="#111" textLength="172.5" lengthAdjust="spacingAndGlyphs" >red circle around the correct option.</text>
<line x1="967" y1="744" x2="1163" y2="744" stroke="#2a2a2a" stroke-width="0.9" stroke-dasharray="2.6,1.1"/><path d="M964,744 L968.2,742 V746 Z" fill="#111"/>
<g transform="translate(966,751.6)"><path d="M1,0 H13.2 Q14.2,0 14.2,1 V8.6 Q14.2,9.6 13.2,9.6 H5.2 L1.6,12.8 V9.6 H1 Q0,9.6 0,8.6 V1 Q0,0 1,0 Z" fill="#111"/><path d="M5.4,4.6 L7,6.2 L10,2.8" stroke="#fff" stroke-width="1.2" fill="none"/></g>
<text x="987" y="762" font-family="Liberation Sans, sans-serif" font-size="11.4" font-weight="bold" textLength="56" lengthAdjust="spacingAndGlyphs"><tspan fill="#a9d18e">Answer</tspan><tspan fill="#111">: D</tspan></text>
<g><rect x="1101.4" y="612.1" width="59.8" height="59.9" fill="#f3f4f8"/><text x="1131" y="617.2" font-family="Liberation Sans, sans-serif" font-size="3" fill="#9a9aa2" text-anchor="middle">Sliding Puzzle</text><rect x="1128.6" y="627.6" width="4" height="3.8" fill="#dfe3ee"/><rect x="1125.6" y="620.2" width="1.5" height="2.2" fill="#b2b2bc"/><rect x="1129.8" y="620.2" width="1.5" height="2.2" fill="#b2b2bc"/><rect x="1134.0" y="620.2" width="1.5" height="2.2" fill="#b2b2bc"/><rect x="1125.6" y="624.2" width="1.5" height="2.2" fill="#b2b2bc"/><rect x="1129.8" y="624.2" width="1.5" height="2.2" fill="#b2b2bc"/><rect x="1134.0" y="624.2" width="1.5" height="2.2" fill="#b2b2bc"/><rect x="1125.6" y="628.2" width="1.5" height="2.2" fill="#b2b2bc"/><rect x="1129.8" y="628.2" width="1.5" height="2.2" fill="#b2b2bc"/><rect x="1134.0" y="628.2" width="1.5" height="2.2" fill="#b2b2bc"/><rect x="1117" y="635.4" width="28" height="0.8" fill="#c5c5cc"/><rect x="1111" y="637.4" width="40" height="0.8" fill="#cfcfd6"/><rect x="1120.1999999999998" y="649.0" width="4.4" height="4" fill="#dfe3ee"/><rect x="1113.2" y="641.4" width="1.5" height="2.2" fill="#b2b2bc"/><rect x="1117.4" y="641.4" width="1.5" height="2.2" fill="#b2b2bc"/><rect x="1121.6" y="641.4" width="1.5" height="2.2" fill="#b2b2bc"/><rect x="1113.2" y="645.4" width="1.5" height="2.2" fill="#b2b2bc"/><rect x="1117.4" y="645.4" width="1.5" height="2.2" fill="#b2b2bc"/><rect x="1121.6" y="645.4" width="1.5" height="2.2" fill="#b2b2bc"/><rect x="1113.2" y="649.4" width="1.5" height="2.2" fill="#b2b2bc"/><rect x="1117.4" y="649.4" width="1.5" height="2.2" fill="#b2b2bc"/><rect x="1121.6" y="649.4" width="1.5" height="2.2" fill="#b2b2bc"/><rect x="1109.0" y="645.4" width="1.8" height="2.2" fill="#a8a8b0"/><rect x="1148.1999999999998" y="649.0" width="4.4" height="4" fill="#dfe3ee"/><rect x="1141.2" y="641.4" width="1.5" height="2.2" fill="#b2b2bc"/><rect x="1145.4" y="641.4" width="1.5" height="2.2" fill="#b2b2bc"/><rect x="1149.6" y="641.4" width="1.5" height="2.2" fill="#b2b2bc"/><rect x="1141.2" y="645.4" width="1.5" height="2.2" fill="#b2b2bc"/><rect x="1145.4" y="645.4" width="1.5" height="2.2" fill="#b2b2bc"/><rect x="1149.6" y="645.4" width="1.5" height="2.2" fill="#b2b2bc"/><rect x="1141.2" y="649.4" width="1.5" height="2.2" fill="#b2b2bc"/><rect x="1145.4" y="649.4" width="1.5" height="2.2" fill="#b2b2bc"/><rect x="1149.6" y="649.4" width="1.5" height="2.2" fill="#b2b2bc"/><rect x="1137.0" y="645.4" width="1.8" height="2.2" fill="#a8a8b0"/><rect x="1120.1999999999998" y="666.8000000000001" width="4.4" height="4" fill="#dfe3ee"/><rect x="1113.2" y="659.2" width="1.5" height="2.2" fill="#b2b2bc"/><rect x="1117.4" y="659.2" width="1.5" height="2.2" fill="#b2b2bc"/><rect x="1121.6" y="659.2" width="1.5" height="2.2" fill="#b2b2bc"/><rect x="1113.2" y="663.2" width="1.5" height="2.2" fill="#b2b2bc"/><rect x="1117.4" y="663.2" width="1.5" height="2.2" fill="#b2b2bc"/><rect x="1121.6" y="663.2" width="1.5" height="2.2" fill="#b2b2bc"/><rect x="1113.2" y="667.2" width="1.5" height="2.2" fill="#b2b2bc"/><rect x="1117.4" y="667.2" width="1.5" height="2.2" fill="#b2b2bc"/><rect x="1121.6" y="667.2" width="1.5" height="2.2" fill="#b2b2bc"/><rect x="1109.0" y="663.2" width="1.8" height="2.2" fill="#a8a8b0"/><rect x="1148.1999999999998" y="666.8000000000001" width="4.4" height="4" fill="#dfe3ee"/><rect x="1141.2" y="659.2" width="1.5" height="2.2" fill="#b2b2bc"/><rect x="1145.4" y="659.2" width="1.5" height="2.2" fill="#b2b2bc"/><rect x="1149.6" y="659.2" width="1.5" height="2.2" fill="#b2b2bc"/><rect x="1141.2" y="663.2" width="1.5" height="2.2" fill="#b2b2bc"/><rect x="1145.4" y="663.2" width="1.5" height="2.2" fill="#b2b2bc"/><rect x="1149.6" y="663.2" width="1.5" height="2.2" fill="#b2b2bc"/><rect x="1141.2" y="667.2" width="1.5" height="2.2" fill="#b2b2bc"/><rect x="1145.4" y="667.2" width="1.5" height="2.2" fill="#b2b2bc"/><rect x="1149.6" y="667.2" width="1.5" height="2.2" fill="#b2b2bc"/><rect x="1137.0" y="663.2" width="1.8" height="2.2" fill="#a8a8b0"/></g>
<g transform="translate(5.2,5.6)" fill="#9d9cab"><circle cx="78.4" cy="618.1" r="20.5"/><circle cx="43.8" cy="646.3" r="19.5"/><circle cx="62" cy="640" r="18"/><circle cx="105" cy="630" r="20"/><circle cx="131" cy="632" r="19"/><circle cx="158.5" cy="628" r="18"/><circle cx="180" cy="642" r="18"/><circle cx="199" cy="681" r="20"/><circle cx="186" cy="706" r="16"/><circle cx="170" cy="728" r="16"/><circle cx="141" cy="732" r="19"/><circle cx="102" cy="730" r="20"/><circle cx="82" cy="714" r="14"/><circle cx="76" cy="690" r="14"/><circle cx="190" cy="660" r="16"/><circle cx="88" cy="646" r="18"/><circle cx="100" cy="660" r="20"/><ellipse cx="130" cy="678" rx="68" ry="50"/><circle cx="201.8" cy="625.7" r="10.8"/><circle cx="47" cy="700.4" r="10.8"/><circle cx="201.8" cy="722" r="10.8"/></g>
<g transform="translate(0,0)" fill="#fde267"><circle cx="78.4" cy="618.1" r="20.5"/><circle cx="43.8" cy="646.3" r="19.5"/><circle cx="62" cy="640" r="18"/><circle cx="105" cy="630" r="20"/><circle cx="131" cy="632" r="19"/><circle cx="158.5" cy="628" r="18"/><circle cx="180" cy="642" r="18"/><circle cx="199" cy="681" r="20"/><circle cx="186" cy="706" r="16"/><circle cx="170" cy="728" r="16"/><circle cx="141" cy="732" r="19"/><circle cx="102" cy="730" r="20"/><circle cx="82" cy="714" r="14"/><circle cx="76" cy="690" r="14"/><circle cx="190" cy="660" r="16"/><circle cx="88" cy="646" r="18"/><circle cx="100" cy="660" r="20"/><ellipse cx="130" cy="678" rx="68" ry="50"/><circle cx="201.8" cy="625.7" r="10.8"/><circle cx="47" cy="700.4" r="10.8"/><circle cx="201.8" cy="722" r="10.8"/></g>
<text x="58.2" y="674.2" font-family="Liberation Sans, sans-serif" font-size="73" font-weight="bold" font-style="italic" fill="#7b2540" stroke="#7b2540" stroke-width="2.2" stroke-linejoin="round" textLength="136" lengthAdjust="spacingAndGlyphs">Gap</text><text x="57.4" y="673.4" font-family="Liberation Sans, sans-serif" font-size="73" font-weight="bold" font-style="italic" fill="#7b2540" stroke="#7b2540" stroke-width="2.2" stroke-linejoin="round" textLength="136" lengthAdjust="spacingAndGlyphs">Gap</text><text x="56.6" y="672.6" font-family="Liberation Sans, sans-serif" font-size="73" font-weight="bold" font-style="italic" fill="#7b2540" stroke="#7b2540" stroke-width="2.2" stroke-linejoin="round" textLength="136" lengthAdjust="spacingAndGlyphs">Gap</text><text x="55.8" y="671.8" font-family="Liberation Sans, sans-serif" font-size="73" font-weight="bold" font-style="italic" fill="#7b2540" stroke="#7b2540" stroke-width="2.2" stroke-linejoin="round" textLength="136" lengthAdjust="spacingAndGlyphs">Gap</text><text x="55.0" y="671.0" font-family="Liberation Sans, sans-serif" font-size="73" font-weight="bold" font-style="italic" fill="#f5345b" stroke="#f5345b" stroke-width="2.2" stroke-linejoin="round" textLength="136" lengthAdjust="spacingAndGlyphs">Gap</text>
<text x="76.2" y="730.7" font-family="Liberation Sans, sans-serif" font-size="65" font-weight="bold" font-style="italic" fill="#1f5f78" stroke="#1f5f78" stroke-width="2.2" stroke-linejoin="round" textLength="119" lengthAdjust="spacingAndGlyphs">Eval</text><text x="75.4" y="729.9" font-family="Liberation Sans, sans-serif" font-size="65" font-weight="bold" font-style="italic" fill="#1f5f78" stroke="#1f5f78" stroke-width="2.2" stroke-linejoin="round" textLength="119" lengthAdjust="spacingAndGlyphs">Eval</text><text x="74.6" y="729.1" font-family="Liberation Sans, sans-serif" font-size="65" font-weight="bold" font-style="italic" fill="#1f5f78" stroke="#1f5f78" stroke-width="2.2" stroke-linejoin="round" textLength="119" lengthAdjust="spacingAndGlyphs">Eval</text><text x="73.8" y="728.3" font-family="Liberation Sans, sans-serif" font-size="65" font-weight="bold" font-style="italic" fill="#1f5f78" stroke="#1f5f78" stroke-width="2.2" stroke-linejoin="round" textLength="119" lengthAdjust="spacingAndGlyphs">Eval</text><text x="73.0" y="727.5" font-family="Liberation Sans, sans-serif" font-size="65" font-weight="bold" font-style="italic" fill="#12d8ef" stroke="#12d8ef" stroke-width="2.2" stroke-linejoin="round" textLength="119" lengthAdjust="spacingAndGlyphs">Eval</text>
</svg></body></html>
